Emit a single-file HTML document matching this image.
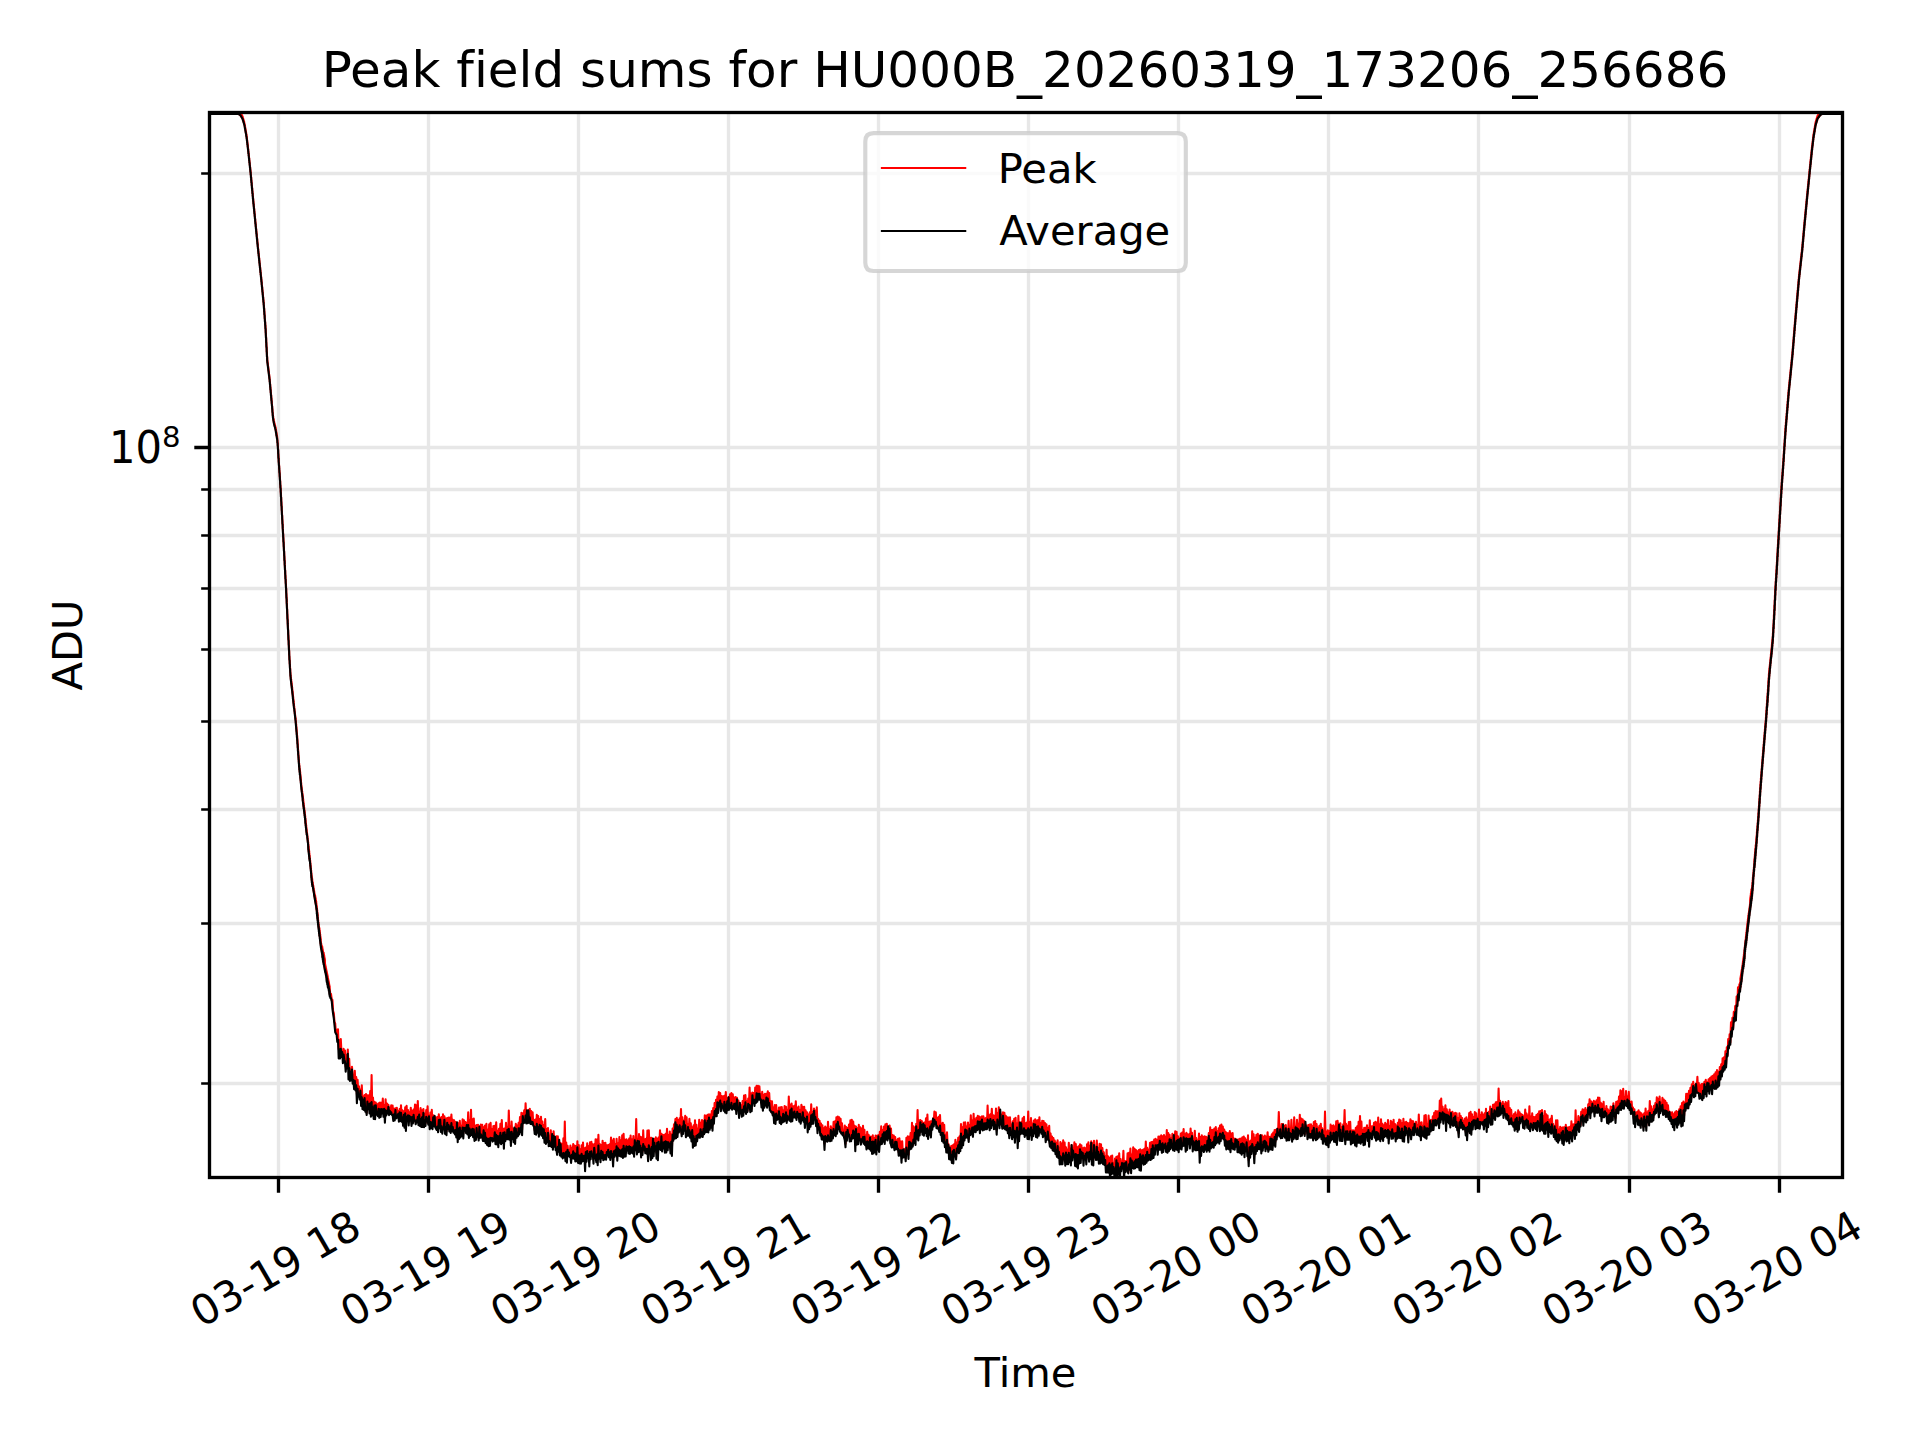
<!DOCTYPE html>
<html><head><meta charset="utf-8"><title>Peak field sums</title>
<style>html,body{margin:0;padding:0;background:#fff;}svg{display:block}text{font-variant-ligatures:none;font-feature-settings:"liga" 0,"clig" 0}</style></head>
<body>
<svg width="1920" height="1440" viewBox="0 0 1920 1440" font-family="'DejaVu Sans', 'Liberation Sans', sans-serif" fill="#000">
<rect width="1920" height="1440" fill="#fff"/>
<defs><clipPath id="c"><rect x="209.5" y="112.5" width="1633.0" height="1065.0"/></clipPath></defs>
<path d="M278.5 112.5V1177.5M428.5 112.5V1177.5M578.5 112.5V1177.5M728.5 112.5V1177.5M878.5 112.5V1177.5M1028.5 112.5V1177.5M1178.5 112.5V1177.5M1328.5 112.5V1177.5M1478.5 112.5V1177.5M1629.5 112.5V1177.5M1779.5 112.5V1177.5M209.5 173.5H1842.5M209.5 489.5H1842.5M209.5 535.5H1842.5M209.5 588.5H1842.5M209.5 649.5H1842.5M209.5 721.5H1842.5M209.5 809.5H1842.5M209.5 923.5H1842.5M209.5 1083.5H1842.5M209.5 447.5H1842.5" stroke="#b0b0b0" stroke-opacity="0.3" stroke-width="3.33" fill="none"/>
<path d="M278.5 1177.5v15.2M428.5 1177.5v15.2M578.5 1177.5v15.2M728.5 1177.5v15.2M878.5 1177.5v15.2M1028.5 1177.5v15.2M1178.5 1177.5v15.2M1328.5 1177.5v15.2M1478.5 1177.5v15.2M1629.5 1177.5v15.2M1779.5 1177.5v15.2M209.5 447.5h-15.2" stroke="#000" stroke-width="3.33" fill="none"/>
<path d="M209.5 173.5h-8.33M209.5 489.5h-8.33M209.5 535.5h-8.33M209.5 588.5h-8.33M209.5 649.5h-8.33M209.5 721.5h-8.33M209.5 809.5h-8.33M209.5 923.5h-8.33M209.5 1083.5h-8.33" stroke="#000" stroke-width="2.5" fill="none"/>
<g clip-path="url(#c)" fill="none" stroke-width="2.08" stroke-linejoin="round">
<path d="M209.4 113.9L209.6 113.9L209.7 113.9L209.8 113.9L209.9 113.9L210.1 113.9L210.2 113.9L210.3 113.9L210.4 113.9L210.6 113.9L210.7 113.9L210.8 113.9L210.9 113.9L211.1 113.9L211.2 113.9L211.3 113.9L211.4 113.9L211.6 113.9L211.7 113.9L211.8 113.9L211.9 113.9L212.1 113.9L212.2 113.9L212.3 113.9L212.4 113.9L212.6 113.9L212.7 113.9L212.8 113.9L212.9 113.9L213.1 113.9L213.2 113.9L213.3 113.9L213.4 113.9L213.6 113.9L213.7 113.9L213.8 113.9L213.9 113.9L214.1 113.9L214.2 113.9L214.3 113.9L214.4 113.9L214.6 113.9L214.7 113.9L214.8 113.9L214.9 113.9L215.1 113.9L215.2 113.9L215.3 113.9L215.4 113.9L215.6 113.9L215.7 113.9L215.8 113.9L215.9 113.9L216.1 113.9L216.2 113.9L216.3 113.9L216.4 113.9L216.6 113.9L216.7 113.9L216.8 113.9L216.9 113.9L217.1 113.9L217.2 113.9L217.3 113.9L217.4 113.9L217.6 113.9L217.7 113.9L217.8 113.9L217.9 113.9L218.1 113.9L218.2 113.9L218.3 113.9L218.4 113.9L218.6 113.9L218.7 113.9L218.8 113.9L218.9 113.9L219.1 113.9L219.2 113.9L219.3 113.9L219.4 113.9L219.6 113.9L219.7 113.9L219.8 113.9L219.9 113.9L220.1 113.9L220.2 113.9L220.3 113.9L220.4 113.9L220.6 113.9L220.7 113.9L220.8 113.9L220.9 113.9L221.1 113.9L221.2 113.9L221.3 113.9L221.4 113.9L221.6 113.9L221.7 113.9L221.8 113.9L221.9 113.9L222.1 113.9L222.2 113.9L222.3 113.9L222.4 113.9L222.6 113.9L222.7 113.9L222.8 113.9L222.9 113.9L223.1 113.9L223.2 113.9L223.3 113.9L223.4 113.9L223.6 113.9L223.7 113.9L223.8 113.9L223.9 113.9L224.1 113.9L224.2 113.9L224.3 113.9L224.4 113.9L224.6 113.9L224.7 113.9L224.8 113.9L224.9 113.9L225.1 113.9L225.2 113.9L225.3 113.9L225.4 113.9L225.6 113.9L225.7 113.9L225.8 113.9L225.9 113.9L226.1 113.9L226.2 113.9L226.3 113.9L226.4 113.9L226.6 113.9L226.7 113.9L226.8 113.9L226.9 113.9L227.1 113.9L227.2 113.9L227.3 113.9L227.4 113.9L227.6 113.9L227.7 113.9L227.8 113.9L227.9 113.9L228.1 113.9L228.2 113.9L228.3 113.9L228.4 113.9L228.6 113.9L228.7 113.9L228.8 113.9L228.9 113.9L229.1 113.9L229.2 113.9L229.3 113.9L229.4 113.9L229.6 113.9L229.7 113.9L229.8 113.9L229.9 113.9L230.1 113.9L230.2 113.9L230.3 113.9L230.4 113.9L230.6 113.9L230.7 113.9L230.8 113.9L230.9 113.9L231.1 113.9L231.2 113.9L231.3 113.9L231.4 113.9L231.6 113.9L231.7 113.9L231.8 113.9L231.9 113.9L232.1 113.9L232.2 113.9L232.3 113.9L232.4 113.9L232.6 113.9L232.7 113.9L232.8 113.9L232.9 113.9L233.1 113.9L233.2 113.9L233.3 113.9L233.4 113.9L233.6 113.9L233.7 113.9L233.8 113.9L233.9 113.9L234.1 113.9L234.2 113.9L234.3 113.9L234.4 113.9L234.6 113.9L234.7 113.9L234.8 113.9L234.9 113.9L235.1 113.9L235.2 113.9L235.3 113.9L235.4 113.9L235.6 113.9L235.7 113.9L235.8 113.9L235.9 113.9L236.1 113.9L236.2 113.9L236.3 113.9L236.4 113.9L236.6 113.9L236.7 113.9L236.8 113.9L236.9 113.9L237.1 113.9L237.2 113.9L237.3 113.9L237.4 113.9L237.6 113.9L237.7 113.9L237.8 113.9L237.9 113.9L238.1 113.9L238.2 113.9L238.3 113.9L238.4 113.9L238.6 114L238.7 113.9L238.8 114.1L238.9 113.9L239.1 114.2L239.2 113.9L239.3 114.4L239.4 113.9L239.6 114.5L239.7 113.9L239.8 114.7L239.9 113.9L240.1 114.9L240.2 113.9L240.3 115L240.4 113.9L240.6 115.4L240.7 113.9L240.8 115.9L240.9 113.9L241.1 116.3L241.2 113.9L241.3 116.7L241.4 114.3L241.6 117.1L241.7 114.8L241.8 117.5L241.9 115.2L242.1 117.9L242.2 115.6L242.3 118.4L242.4 116L242.6 118.7L242.7 116.8L242.8 119.6L242.9 117.6L243.1 120.4L243.2 118.5L243.3 121.2L243.4 119.3L243.6 122L243.7 120.1L243.8 122.8L243.9 121.1L244.1 123.7L244.2 121.9L244.3 124.5L244.4 123L244.6 125.5L244.7 124.4L244.8 127L244.9 125.8L245.1 128.4L245.2 127.1L245.3 129.8L245.4 128.5L245.6 131.2L245.7 129.9L245.8 132.6L245.9 131.4L246.1 134.1L246.2 132.8L246.3 135.5L246.4 134.2L246.6 136.9L246.7 136.1L246.8 138.8L246.9 138.2L247.1 140.9L247.2 140.2L247.3 143L247.4 142.3L247.6 145.1L247.7 144.4L247.8 147.1L247.9 146.5L248.1 149.2L248.2 148.7L248.3 151.4L248.4 151.1L248.6 153.7L248.7 153.4L248.8 156L248.9 155.7L249.1 158.3L249.2 158L249.3 160.7L249.4 160.3L249.6 163L249.7 162.6L249.8 165.3L249.9 164.9L250.1 167.6L250.2 167.2L250.3 169.9L250.4 169.5L250.6 172.2L250.7 172.1L250.8 174.7L250.9 174.8L251.1 177.5L251.2 177.4L251.3 180.2L251.4 180.1L251.6 182.9L251.7 182.8L251.8 185.5L251.9 185.5L252.1 188.2L252.2 188L252.3 190.9L252.4 190.7L252.6 193.6L252.7 193.4L252.8 196.3L252.9 196L253.1 198.9L253.2 198.6L253.3 201.5L253.4 201.1L253.6 204L253.7 203.8L253.8 206.4L253.9 206.3L254.1 208.9L254.2 208.8L254.3 211.4L254.4 211.3L254.6 213.9L254.7 213.8L254.8 216.4L254.9 216.3L255.1 218.9L255.2 218.9L255.3 221.5L255.4 221.4L255.6 224L255.7 223.9L255.8 226.5L255.9 226.4L256.1 229L256.2 228.8L256.3 231.5L256.4 231.3L256.6 234L256.7 233.8L256.8 236.5L256.9 236.3L257.1 239L257.2 238.8L257.3 241.5L257.4 241.3L257.6 244L257.7 243.8L257.8 246.5L257.9 246.3L258.1 248.9L258.2 248.7L258.3 251.3L258.4 251.1L258.6 253.6L258.7 253.4L258.8 256L258.9 255.7L259.1 258.3L259.2 258L259.3 260.8L259.4 260.3L259.6 263.2L259.7 262.7L259.8 265.5L259.9 265L260.1 267.9L260.2 267.4L260.3 270.2L260.4 269.7L260.6 272.6L260.7 272.2L260.8 274.9L260.9 274.5L261.1 277.2L261.2 276.9L261.3 279.6L261.4 279.4L261.6 282.1L261.7 281.9L261.8 284.6L261.9 284.3L262.1 287.1L262.2 286.8L262.3 289.6L262.4 289.4L262.6 292.2L262.7 291.9L262.8 294.7L262.9 294.5L263.1 297.3L263.2 297L263.3 299.8L263.4 299.7L263.6 302.4L263.7 302.3L263.8 304.9L263.9 305.6L264.1 308.3L264.2 309L264.3 311.7L264.4 312.4L264.6 315.1L264.7 315.8L264.8 318.4L264.9 319.1L265.1 321.8L265.2 322.5L265.3 325.2L265.4 325.8L265.6 328.6L265.7 330.1L265.8 332.8L265.9 334.9L266.1 337.6L266.2 339.6L266.3 342.5L266.4 344.4L266.6 347.3L266.7 349.2L266.8 352.1L266.9 353.8L267.1 356.7L267.2 358.3L267.3 361.2L267.4 360.3L267.6 363.2L267.7 362.3L267.8 365.3L267.9 364.3L268.1 367.3L268.2 366.2L268.3 369.3L268.4 368.2L268.6 371.3L268.7 370.2L268.8 373.3L268.9 372.2L269.1 375.3L269.2 374.4L269.3 377.3L269.4 376.3L269.6 379.3L269.7 378.8L269.8 381.7L269.9 381.5L270.1 384.5L270.2 384.2L270.3 387.2L270.4 386.9L270.6 389.9L270.7 389.6L270.8 392.6L270.9 392.4L271.1 395.4L271.2 395.1L271.3 398.1L271.4 397.8L271.6 400.8L271.7 400.5L271.8 403.5L271.9 403.1L272.1 406.2L272.2 406.2L272.3 409.3L272.4 409.3L272.6 412.4L272.7 412.5L272.8 415.6L272.9 414.9L273.1 418L273.2 416.6L273.3 419.6L273.4 418L273.6 421L273.7 419.4L273.8 422.4L273.9 420.9L274.1 423.9L274.2 421.8L274.3 424.8L274.4 422.8L274.6 425.8L274.7 423.7L274.8 426.7L274.9 424.7L275.1 427.6L275.2 425.7L275.3 428.6L275.4 426.6L275.6 429.6L275.7 427.9L275.8 430.9L275.9 429.3L276.1 432.4L276.2 430.8L276.3 433.9L276.4 432.3L276.6 435.5L276.7 433.8L276.8 437L276.9 435.3L277.1 438.5L277.2 436.9L277.3 440L277.4 439.9L277.6 442.9L277.7 442.8L277.8 445.8L277.9 446.3L278.1 449.3L278.2 450.8L278.3 453.8L278.4 455.2L278.6 458.2L278.7 459.2L278.8 462.2L278.9 462.7L279.1 465.7L279.2 466.3L279.3 469.4L279.4 470L279.6 473L279.7 473.7L279.8 476.7L279.9 477.3L280.1 480.4L280.2 481.1L280.3 484.4L280.4 484.8L280.6 488.1L280.7 489L280.8 492.3L280.9 493.5L281.1 496.9L281.2 498.1L281.3 501.4L281.4 502.6L281.6 506L281.7 507.1L281.8 510.5L281.9 511.7L282.1 515.1L282.2 516.2L282.3 519.6L282.4 520.8L282.6 524.2L282.7 525.3L282.8 528.8L282.9 529.9L283.1 533.3L283.2 534.6L283.3 537.5L283.4 539.1L283.6 542L283.7 543.7L283.8 546.6L283.9 548.2L284.1 551.2L284.2 552.8L284.3 555.7L284.4 557.2L284.6 560.7L284.7 561.8L284.8 565.2L284.9 566.4L285.1 569.8L285.2 570.9L285.3 574.4L285.4 575.5L285.6 578.9L285.7 580L285.8 583.5L285.9 584L286.1 587.9L286.2 589.1L286.3 593.1L286.4 594.3L286.6 598.3L286.7 599.5L286.8 603.5L286.9 604.6L287.1 608.7L287.2 610.8L287.3 614L287.4 616L287.6 619.2L287.7 621.2L287.8 624.4L287.9 626.4L288.1 629.6L288.2 631.6L288.3 634.8L288.4 636.8L288.6 640L288.7 641.3L288.8 645L288.9 646.5L289.1 650.2L289.2 651.7L289.3 655.4L289.4 656.4L289.6 660.1L289.7 660.2L289.8 664L289.9 664.4L290.1 668.6L290.2 668.3L290.3 672.5L290.4 672.2L290.6 676.4L290.7 675L290.8 679.3L290.9 677.2L291.1 681.4L291.2 679.3L291.3 683.6L291.4 681L291.6 685.4L291.7 683.1L291.8 687.6L291.9 685.2L292.1 689.7L292.2 687.4L292.3 691.9L292.4 689.5L292.6 694.1L292.7 691.7L292.8 696.2L292.9 694.6L293.1 699.2L293.2 696.8L293.3 701.3L293.4 698.9L293.6 703.5L293.7 701.1L293.8 705.8L293.9 703.4L294.1 708L294.2 706.2L294.3 709.2L294.4 708.4L294.6 711.4L294.7 710.7L294.8 713.6L294.9 712.9L295.1 715.9L295.2 715.1L295.3 718.1L295.4 717.3L295.6 720.3L295.7 718.5L295.8 723L295.9 721.3L296.1 725.9L296.2 724.1L296.3 728.7L296.4 726.9L296.6 731.5L296.7 729.7L296.8 734.4L296.9 733L297.1 737.7L297.2 735.8L297.3 740.5L297.4 739.4L297.6 744.1L297.7 742.9L297.8 747.7L297.9 746.4L298.1 751.3L298.2 750L298.3 754.8L298.4 753.8L298.6 757.9L298.7 757.4L298.8 761.5L298.9 760.9L299.1 765.1L299.2 763.4L299.3 767.6L299.4 765.9L299.6 770.1L299.7 768.4L299.8 772.6L299.9 769.5L300.1 774.5L300.2 771.9L300.3 777L300.4 774.4L300.6 779.5L300.7 776.9L300.8 782L300.9 779.3L301.1 784.5L301.2 782.9L301.3 787L301.4 785.4L301.6 789.5L301.7 787.3L301.8 791.4L301.9 789.2L302.1 793.4L302.2 791.2L302.3 795.3L302.4 793.1L302.6 797.3L302.7 794.9L302.8 800.5L302.9 796.9L303.1 802.4L303.2 798.9L303.3 804.4L303.4 801L303.6 806.5L303.7 803L303.8 808.6L303.9 805.4L304.1 809.8L304.2 807.5L304.3 811.8L304.4 809.5L304.6 813.9L304.7 811.6L304.8 816L304.9 813.7L305.1 818.1L305.2 815.8L305.3 820.2L305.4 818.4L305.6 823.5L305.7 820.6L305.8 825.7L305.9 822.8L306.1 828L306.2 825L306.3 830.2L306.4 827.3L306.6 832.4L306.7 829.5L306.8 834.7L306.9 831.7L307.1 834.8L307.2 833.9L307.3 837L307.4 836.1L307.6 839.3L307.7 838.4L307.8 841.5L307.9 840.6L308.1 843.7L308.2 842.1L308.3 848.1L308.4 844.3L308.6 850.4L308.7 846.5L308.8 852.6L308.9 848.7L309.1 854.8L309.2 850.9L309.3 857.1L309.4 853.2L309.6 859.4L309.7 855.5L309.8 859.8L309.9 858L310.1 862.2L310.2 860.4L310.3 864.7L310.4 862.9L310.6 867.2L310.7 865.4L310.8 869.7L310.9 867.8L311.1 872.2L311.2 870.4L311.3 875.7L311.4 872.9L311.6 878.2L311.7 875.4L311.8 880.7L311.9 877.4L312.1 882.7L312.2 878.8L312.3 884.2L312.4 880.9L312.6 884.9L312.7 882.3L312.8 886.4L312.9 883.7L313.1 887.8L313.2 885.2L313.3 889.2L313.4 886.6L313.6 890.6L313.7 888L313.8 892.1L313.9 889.7L314.1 894.1L314.2 891.1L314.3 895.5L314.4 892.6L314.6 896.9L314.7 894L314.8 898.4L314.9 895.4L315.1 899.8L315.2 895.7L315.3 901.4L315.4 897.1L315.6 902.9L315.7 898.6L315.8 904.3L315.9 900L316.1 905.8L316.2 901.4L316.3 907.2L316.4 903.6L316.6 909.4L316.7 905.6L316.8 911.2L316.9 907.7L317.1 913.4L317.2 909.9L317.3 915.6L317.4 912.1L317.6 917.8L317.7 914.2L317.8 920L317.9 918L318.1 922.6L318.2 920.1L318.3 924.8L318.4 922.3L318.6 926.9L318.7 924.4L318.8 929L318.9 926.5L319.1 931.2L319.2 928.6L319.3 933.3L319.4 928L319.6 934.9L319.7 930.1L319.8 937L319.9 932.1L320.1 939.1L320.2 934.2L320.3 941.2L320.4 936.3L320.6 943.4L320.7 938L320.8 945.1L320.9 941.8L321.1 947.3L321.2 943.2L321.3 948.7L321.4 944.6L321.6 950.1L321.7 946L321.8 951.6L321.9 947.4L322.1 953L322.2 946.4L322.3 954.2L322.4 947.8L322.6 955.6L322.7 949.2L322.8 957.1L322.9 950.6L323.1 958.5L323.2 952L323.3 959.9L323.4 953.4L323.6 961.3L323.7 952.7L323.8 963.7L323.9 954.1L324.1 965.1L324.2 955.5L324.3 966.5L324.4 956.9L324.6 967.9L324.7 958.2L324.8 969.4L324.9 959.6L325.1 970.8L325.2 964.1L325.3 971.1L325.4 965.3L325.6 972.3L325.7 966.5L325.8 973.5L325.9 967.7L326.1 974.7L326.2 968.9L326.3 975.9L326.4 970.2L326.6 978.3L326.7 971.4L326.8 979.5L326.9 972.5L327.1 980.7L327.2 973.7L327.3 981.9L327.4 974.9L327.6 983.1L327.7 976.1L327.8 984.3L327.9 977.7L328.1 985L328.2 978.9L328.3 986.3L328.4 980L328.6 987.5L328.7 981.2L328.8 988.7L328.9 982.4L329.1 989.9L329.2 984L329.3 991.6L329.4 985.2L329.6 992.8L329.7 986.4L329.8 994L329.6 987.6L330.4 995.2L331 994L331.8 1000L332.4 999.9L333.1 1011.1L333.8 1013.1L334.5 1021.8L335.2 1023.4L335.9 1032.9L336.6 1029.7L337.3 1038.2L338 1029.2L338.7 1049.1L339.4 1040.3L340.1 1053.9L340.8 1039L341.5 1053L342.2 1051.7L342.9 1057.6L343.6 1048.8L344.3 1056.8L345 1050.5L345.7 1066.7L346.4 1055.1L347.1 1066.1L347.8 1049.6L348.5 1066.6L349.2 1058.9L349.9 1074.5L350.6 1070.5L351.3 1076L352 1066.7L352.7 1076.7L353.4 1076.2L354.1 1084.6L354.8 1070.9L355.5 1085.6L356.2 1077L356.9 1094.2L357.6 1079.9L358.3 1092.6L359 1086.4L359.7 1097.3L360.4 1089.9L361.1 1098.4L361.8 1085.3L362.5 1103.2L363.2 1096.5L363.9 1105L364.6 1095L365.3 1104.9L366 1094.1L366.7 1112.8L367.4 1095.4L368.1 1105.4L368.8 1095.4L369.5 1108.9L370.2 1091L370.9 1110L371.6 1075L372.3 1108.7L373 1097.5L373.7 1113.3L374.4 1101.9L375.1 1112.4L375.8 1102.6L376.5 1110L377.2 1104.3L377.9 1113.9L378.6 1103.4L379.3 1113.3L380 1102.5L380.7 1113.1L381.4 1102.7L382.1 1111.3L382.8 1098.6L383.5 1113L384.2 1105L384.9 1115.7L385.6 1099.2L386.3 1112.8L387 1103.6L387.7 1112.3L388.4 1104.8L389.1 1111L389.8 1108.1L390.5 1112.3L391.2 1105.4L391.9 1113.5L392.6 1105.5L393.3 1118L394 1108.9L394.7 1117.4L395.4 1108.2L396.1 1114.3L396.8 1107.7L397.5 1116.6L398.2 1111.1L398.9 1117.8L399.6 1109.1L400.3 1116.7L401 1105.2L401.7 1117.2L402.4 1110.3L403.1 1121.6L403.8 1111.3L404.5 1121.2L405.2 1107.2L405.9 1122.1L406.6 1105.9L407.3 1118.8L408 1110L408.7 1120.3L409.4 1112.2L410.1 1117.1L410.8 1107.7L411.5 1121.5L412.2 1110.8L412.9 1120.3L413.6 1109.5L414.3 1117.7L415 1104.5L415.7 1122.2L416.4 1105.4L417.1 1121.5L417.8 1101L418.5 1121L419.2 1111.7L419.9 1120.3L420.6 1108.1L421.3 1123.2L422 1110.4L422.7 1122.1L423.4 1109.1L424.1 1120L424.8 1114.3L425.5 1123.2L426.2 1110L426.9 1117.5L427.6 1106.3L428.3 1122.5L429 1115.5L429.7 1122.8L430.4 1112.5L431.1 1125L431.8 1109.7L432.5 1125.7L433.2 1115.2L433.9 1121.8L434.6 1116.7L435.3 1121.7L436 1117.6L436.7 1129.3L437.4 1117.1L438.1 1129.4L438.8 1114.3L439.5 1124.1L440.2 1117.9L440.9 1125.7L441.6 1117.1L442.3 1130.1L443 1114.3L443.7 1128.2L444.4 1116.3L445.1 1126.8L445.8 1118.6L446.5 1131.1L447.2 1118L447.9 1125.8L448.6 1117.5L449.3 1128.3L450 1117.6L450.7 1129.9L451.4 1114.6L452.1 1127.1L452.8 1119.8L453.5 1129.9L454.2 1120.4L454.9 1132.3L455.6 1122.1L456.3 1133.7L457 1122.7L457.7 1132.3L458.4 1123.4L459.1 1133.9L459.8 1120.8L460.5 1132.6L461.2 1125.8L461.9 1133.7L462.6 1119.2L463.3 1133.1L464 1120.2L464.7 1128.9L465.4 1122L466.1 1130.5L466.8 1122.7L467.5 1129.8L468.2 1112.3L468.9 1131.5L469.6 1120.6L470.3 1132.3L471 1109.8L471.7 1132.6L472.4 1119.3L473.1 1132.9L473.8 1118.6L474.5 1135L475.2 1125.9L475.9 1137.3L476.6 1125.1L477.3 1132.4L478 1124.9L478.7 1137.9L479.4 1126.2L480.1 1132.3L480.8 1124.6L481.5 1135.8L482.2 1124.8L482.9 1138.4L483.6 1127.2L484.3 1135.8L485 1125.6L485.7 1138L486.4 1123.9L487.1 1141.3L487.8 1129.8L488.5 1142.6L489.2 1124.2L489.9 1142.3L490.6 1122.7L491.3 1139L492 1129.3L492.7 1139.8L493.4 1126L494.1 1139.8L494.8 1125.8L495.5 1138.3L496.2 1122.2L496.9 1139.7L497.6 1130.9L498.3 1141.6L499 1128.7L499.7 1139.5L500.4 1123.8L501.1 1138.5L501.8 1120L502.5 1139.4L503.2 1128.9L503.9 1140.7L504.6 1128.6L505.3 1136.6L506 1122.8L506.7 1137.2L507.4 1127.1L508.1 1134.6L508.8 1110.6L509.5 1134.3L510.2 1126.8L510.9 1139.2L511.6 1121.6L512.3 1135.3L513 1128.7L513.7 1138L514.4 1128.5L515.1 1135.8L515.8 1123.8L516.5 1133.3L517.2 1125.5L517.9 1134.5L518.6 1122.9L519.3 1131.4L520 1117L520.7 1130.2L521.4 1112.7L522.1 1129.7L522.8 1113.2L523.5 1119.7L524.2 1110.3L524.9 1121.3L525.6 1103.4L526.3 1119.5L527 1111.5L527.7 1116.7L528.4 1110L529.1 1116.6L529.8 1108.7L530.5 1120.7L531.2 1111.1L531.9 1122.9L532.6 1112.4L533.3 1123.9L534 1120.1L534.7 1130.2L535.4 1119.6L536.1 1130.9L536.8 1114.7L537.5 1128.3L538.2 1116.1L538.9 1131.9L539.6 1119.1L540.3 1129.6L541 1116.7L541.7 1130.7L542.4 1121.6L543.1 1133.2L543.8 1125L544.5 1136.1L545.2 1119.1L545.9 1138.5L546.6 1129.1L547.3 1140.2L548 1128.1L548.7 1139.5L549.4 1136.7L550.1 1143.4L550.8 1130.4L551.5 1145.5L552.2 1137.2L552.9 1141.8L553.6 1131.4L554.3 1141.4L555 1139.9L555.7 1143.6L556.4 1136.3L557.1 1152.1L557.8 1136.2L558.5 1149.2L559.2 1141.8L559.9 1147.6L560.6 1143.1L561.3 1150.5L562 1144L562.7 1156L563.4 1138.3L564.1 1155.2L564.8 1121.5L565.5 1157.3L566.2 1142.5L566.9 1157.3L567.6 1145.8L568.3 1153L569 1149.9L569.7 1154.6L570.4 1145.5L571.1 1159.3L571.8 1147.8L572.5 1156.6L573.2 1144.1L573.9 1155L574.6 1145.6L575.3 1157.4L576 1146.1L576.7 1157.5L577.4 1141.2L578.1 1155.2L578.8 1145.1L579.5 1159.4L580.2 1149.4L580.9 1159.6L581.6 1145.3L582.3 1157.6L583 1142.6L583.7 1158.3L584.4 1148.3L585.1 1163.4L585.8 1147.6L586.5 1156.9L587.2 1143.3L587.9 1154.3L588.6 1146.3L589.3 1160.3L590 1142.2L590.7 1155.4L591.4 1141.7L592.1 1153.5L592.8 1144.3L593.5 1159L594.2 1144.4L594.9 1151.4L595.6 1139.3L596.3 1159.5L597 1139.6L597.7 1159.6L598.4 1134.7L599.1 1152.2L599.8 1144L600.5 1158.1L601.2 1145.1L601.9 1154.5L602.6 1140.9L603.3 1156.1L604 1143L604.7 1157.3L605.4 1142.8L606.1 1157.4L606.8 1145.2L607.5 1153.8L608.2 1145.1L608.9 1153.6L609.6 1144.3L610.3 1156.2L611 1137.6L611.7 1154.2L612.4 1140.5L613.1 1160.2L613.8 1138.8L614.5 1154.1L615.2 1144.4L615.9 1152.9L616.6 1138.8L617.3 1153.5L618 1143.5L618.7 1152L619.4 1137.1L620.1 1153L620.8 1140.4L621.5 1153.7L622.2 1135.4L622.9 1153.7L623.6 1133.8L624.3 1151.2L625 1139.7L625.7 1152.6L626.4 1139.2L627.1 1148.4L627.8 1140.5L628.5 1150.2L629.2 1138.5L629.9 1150.1L630.6 1135.5L631.3 1149.8L632 1139.6L632.7 1150.8L633.4 1136L634.1 1151.6L634.8 1139.6L635.5 1145.2L636.2 1119L636.9 1148.6L637.6 1139.7L638.3 1146.4L639 1134.1L639.7 1146.5L640.4 1136.9L641.1 1151.6L641.8 1137.4L642.5 1151.7L643.2 1130.4L643.9 1146.8L644.6 1139.3L645.3 1150L646 1138.7L646.7 1151.2L647.4 1130.6L648.1 1155.1L648.8 1130.3L649.5 1147.9L650.2 1137.9L650.9 1154.6L651.6 1137.8L652.3 1152.6L653 1145.6L653.7 1147.4L654.4 1139L655.1 1145.8L655.8 1137.4L656.5 1152.6L657.2 1138.9L657.9 1151.5L658.6 1137.5L659.3 1145.6L660 1130.4L660.7 1147.3L661.4 1133.8L662.1 1143.9L662.8 1134.9L663.5 1145.6L664.2 1135.1L664.9 1147.3L665.6 1133.7L666.3 1146.9L667 1128.7L667.7 1146.2L668.4 1135.1L669.1 1144.1L669.8 1131.5L670.5 1148.7L671.2 1134.5L671.9 1148.9L672.6 1128.5L673.3 1137.7L674 1124.4L674.7 1134.5L675.4 1119.1L676.1 1130.3L676.8 1117.9L677.5 1130.9L678.2 1120L678.9 1129.8L679.6 1118.3L680.3 1127.7L681 1109L681.7 1133.4L682.4 1117.3L683.1 1130.3L683.8 1120.7L684.5 1126.1L685.2 1115.9L685.9 1131.3L686.6 1117.2L687.3 1133.4L688 1124.3L688.7 1131.3L689.4 1118.8L690.1 1133.9L690.8 1123.3L691.5 1137L692.2 1127.3L692.9 1138.9L693.6 1125.4L694.3 1141.1L695 1120.3L695.7 1142.2L696.4 1124.8L697.1 1138.5L697.8 1128.7L698.5 1136.2L699.2 1119.9L699.9 1135.7L700.6 1122.9L701.3 1132.9L702 1120.1L702.7 1134.7L703.4 1121.3L704.1 1131.5L704.8 1115.3L705.5 1126.4L706.2 1115.9L706.9 1127.7L707.6 1114.7L708.3 1126.6L709 1114.4L709.7 1123.7L710.4 1114.6L711.1 1124.2L711.8 1111.1L712.5 1125.2L713.2 1108L713.9 1120.4L714.6 1103L715.3 1113.6L716 1099.9L716.7 1112.7L717.4 1096.5L718.1 1107.6L718.8 1092.1L719.5 1104.4L720.2 1093L720.9 1105.9L721.6 1096.1L722.3 1105.4L723 1096.3L723.7 1108.9L724.4 1095.8L725.1 1107.2L725.8 1092L726.5 1109L727.2 1098.3L727.9 1105.9L728.6 1097.1L729.3 1103.6L730 1094.3L730.7 1106.6L731.4 1093.1L732.1 1106.3L732.8 1094.3L733.5 1107.4L734.2 1097.5L734.9 1106.6L735.6 1097L736.3 1108.8L737 1097.8L737.7 1104.2L738.4 1100.5L739.1 1113.5L739.8 1103.4L740.5 1106.2L741.2 1105.4L741.9 1114.7L742.6 1101L743.3 1112.7L744 1095.5L744.7 1109.1L745.4 1095.1L746.1 1108.2L746.8 1101L747.5 1110.6L748.2 1098.5L748.9 1105.5L749.6 1087.6L750.3 1108.6L751 1093.5L751.7 1108.7L752.4 1092.5L753.1 1099.1L753.8 1093L754.5 1102.9L755.2 1087.6L755.9 1101.2L756.6 1085.9L757.3 1097.5L758 1085.8L758.7 1096.7L759.4 1086.2L760.1 1096.7L760.8 1094.3L761.5 1103.4L762.2 1091.8L762.9 1105.7L763.6 1094.7L764.3 1103.9L765 1093.9L765.7 1103.6L766.4 1093.8L767.1 1102.6L767.8 1091.3L768.5 1101.8L769.2 1093L769.9 1106.8L770.6 1101L771.3 1111.6L772 1101.4L772.7 1113.7L773.4 1107.6L774.1 1117.8L774.8 1105.1L775.5 1119.2L776.2 1105.1L776.9 1116.8L777.6 1111L778.3 1117.6L779 1107.6L779.7 1117L780.4 1107.2L781.1 1120.4L781.8 1107L782.5 1120.5L783.2 1110.6L783.9 1117.7L784.6 1106L785.3 1118L786 1106.8L786.7 1117.6L787.4 1110.1L788.1 1117.5L788.8 1096.5L789.5 1119.3L790.2 1104.9L790.9 1116L791.6 1103.5L792.3 1114.9L793 1106.5L793.7 1115.2L794.4 1105.7L795.1 1114.6L795.8 1101.4L796.5 1117.1L797.2 1107.9L797.9 1114.6L798.6 1106.6L799.3 1117.7L800 1110L800.7 1118.7L801.4 1104.9L802.1 1118.8L802.8 1106.7L803.5 1117L804.2 1106.8L804.9 1122.9L805.6 1110.3L806.3 1120.4L807 1112.3L807.7 1124.5L808.4 1114.5L809.1 1126.6L809.8 1112.3L810.5 1124.7L811.2 1104.3L811.9 1119.6L812.6 1112.2L813.3 1119.1L814 1108.5L814.7 1115.2L815.4 1110.9L816.1 1121.6L816.8 1107.4L817.5 1126.7L818.2 1119.1L818.9 1126.4L819.6 1120.8L820.3 1131.4L821 1123.6L821.7 1136.6L822.4 1125.3L823.1 1137.7L823.8 1128.2L824.5 1143.5L825.2 1126.6L825.9 1138.4L826.6 1127.8L827.3 1139.6L828 1121.7L828.7 1138L829.4 1129.4L830.1 1139.6L830.8 1126.2L831.5 1135.4L832.2 1128.3L832.9 1135.1L833.6 1121.7L834.3 1132.1L835 1121.2L835.7 1133.8L836.4 1117.3L837.1 1129.1L837.8 1116.6L838.5 1125.5L839.2 1117.3L839.9 1129L840.6 1118.9L841.3 1132.6L842 1123.2L842.7 1134.1L843.4 1130.8L844.1 1135.2L844.8 1125.5L845.5 1143.8L846.2 1127L846.9 1136.4L847.6 1128.1L848.3 1132.1L849 1124.5L849.7 1137.9L850.4 1120.4L851.1 1139.9L851.8 1119.7L852.5 1136.8L853.2 1121.5L853.9 1134.3L854.6 1125.7L855.3 1141.6L856 1126.5L856.7 1136.9L857.4 1128.3L858.1 1139.4L858.8 1124.8L859.5 1136.5L860.2 1127.3L860.9 1141.8L861.6 1128.6L862.3 1140.5L863 1125.7L863.7 1140.5L864.4 1129.7L865.1 1140.9L865.8 1135.4L866.5 1145.8L867.2 1131.9L867.9 1144.8L868.6 1134.9L869.3 1145.6L870 1136.6L870.7 1144.2L871.4 1136.9L872.1 1148L872.8 1135.4L873.5 1147.5L874.2 1138L874.9 1147L875.6 1135.5L876.3 1147.1L877 1135.9L877.7 1148L878.4 1135L879.1 1144.2L879.8 1131.9L880.5 1143.7L881.2 1126.3L881.9 1141L882.6 1130.2L883.3 1137.9L884 1126.5L884.7 1138.1L885.4 1124.4L886.1 1135.9L886.8 1123.8L887.5 1135.8L888.2 1128.1L888.9 1132.3L889.6 1125.5L890.3 1135.9L891 1128.6L891.7 1146L892.4 1135L893.1 1143.6L893.8 1135.5L894.5 1147.6L895.2 1137.1L895.9 1145.5L896.6 1140.6L897.3 1145.7L898 1138.9L898.7 1152.1L899.4 1138.2L900.1 1152.8L900.8 1141.6L901.5 1156.5L902.2 1141.4L902.9 1154.1L903.6 1150.2L904.3 1153.1L905 1148.9L905.7 1158.1L906.4 1137.9L907.1 1149.9L907.8 1136.4L908.5 1154.8L909.2 1136.7L909.9 1145.6L910.6 1133.1L911.3 1145.7L912 1122.9L912.7 1145.3L913.4 1126.4L914.1 1141.3L914.8 1127.5L915.5 1138.9L916.2 1123.7L916.9 1132.4L917.6 1110L918.3 1135.5L919 1120.2L919.7 1132.6L920.4 1120L921.1 1126.9L921.8 1121.1L922.5 1129.9L923.2 1122.8L923.9 1129.7L924.6 1122.6L925.3 1129.1L926 1118.2L926.7 1132.5L927.4 1114.5L928.1 1133.7L928.8 1122L929.5 1132.6L930.2 1121.4L930.9 1132L931.6 1121.3L932.3 1127L933 1118.5L933.7 1122.5L934.4 1111.5L935.1 1122L935.8 1112.4L936.5 1124.9L937.2 1118.1L937.9 1127.5L938.6 1116.8L939.3 1130.1L940 1115L940.7 1130.2L941.4 1123.5L942.1 1137L942.8 1122.8L943.5 1137.8L944.2 1124.9L944.9 1141.2L945.6 1134.8L946.3 1147.5L947 1132.4L947.7 1146.2L948.4 1143.9L949.1 1152.2L949.8 1147.7L950.5 1153.8L951.2 1146.1L951.9 1159L952.6 1145.4L953.3 1157.3L954 1144.4L954.7 1152.6L955.4 1139.7L956.1 1157L956.8 1142.5L957.5 1150.5L958.2 1137.8L958.9 1149.3L959.6 1136.3L960.3 1146.4L961 1124L961.7 1140.7L962.4 1127.3L963.1 1141.3L963.8 1122.5L964.5 1138.2L965.2 1122.3L965.9 1133.6L966.6 1126.9L967.3 1133.8L968 1122.6L968.7 1139L969.4 1125.1L970.1 1131.9L970.8 1115.2L971.5 1133L972.2 1120.6L972.9 1132.2L973.6 1113.9L974.3 1129.6L975 1119.5L975.7 1129.1L976.4 1117.8L977.1 1127.9L977.8 1115.8L978.5 1125.4L979.2 1116.5L979.9 1127.6L980.6 1117.2L981.3 1125.3L982 1116.3L982.7 1125L983.4 1116.2L984.1 1126.7L984.8 1118.5L985.5 1126.1L986.2 1117.7L986.9 1126.1L987.6 1105.6L988.3 1123.5L989 1115.2L989.7 1125.5L990.4 1114.4L991.1 1123.7L991.8 1108.9L992.5 1123.4L993.2 1115.4L993.9 1124.6L994.6 1115.7L995.3 1125.4L996 1108.6L996.7 1130L997.4 1113.4L998.1 1121.8L998.8 1107.3L999.5 1125.3L1000.2 1111.5L1000.9 1116.8L1001.6 1114.7L1002.3 1125.4L1003 1112.4L1003.7 1122.1L1004.4 1112.9L1005.1 1128.5L1005.8 1115.7L1006.5 1128.2L1007.2 1117.4L1007.9 1129.4L1008.6 1117.5L1009.3 1133.4L1010 1117.2L1010.7 1131.4L1011.4 1124.7L1012.1 1135.3L1012.8 1121.2L1013.5 1130.2L1014.2 1118.8L1014.9 1136.7L1015.6 1117.7L1016.3 1133.1L1017 1123.9L1017.7 1137.9L1018.4 1115.7L1019.1 1136.4L1019.8 1122.9L1020.5 1128.4L1021.2 1122.2L1021.9 1128.4L1022.6 1118.2L1023.3 1132.5L1024 1116.9L1024.7 1132.6L1025.4 1123.2L1026.1 1132.8L1026.8 1122.5L1027.5 1134.5L1028.2 1111.5L1028.9 1133.8L1029.6 1122.3L1030.3 1132.6L1031 1118L1031.7 1133.6L1032.4 1123.9L1033.1 1133.2L1033.8 1120.5L1034.5 1128.8L1035.2 1119.3L1035.9 1130.7L1036.6 1120.6L1037.3 1132.4L1038 1120.1L1038.7 1131L1039.4 1117.3L1040.1 1130.5L1040.8 1123.2L1041.5 1131.6L1042.2 1120.8L1042.9 1131.9L1043.6 1121L1044.3 1133.1L1045 1123L1045.7 1137.4L1046.4 1124.4L1047.1 1138.3L1047.8 1127.8L1048.5 1135.3L1049.2 1125.8L1049.9 1143.9L1050.6 1133.5L1051.3 1145.3L1052 1136.6L1052.7 1146L1053.4 1138L1054.1 1147.4L1054.8 1140.5L1055.5 1149L1056.2 1142.7L1056.9 1153.4L1057.6 1140.3L1058.3 1152L1059 1147.8L1059.7 1158.2L1060.4 1142.1L1061.1 1160.3L1061.8 1143.5L1062.5 1160.8L1063.2 1140.3L1063.9 1155L1064.6 1142.5L1065.3 1160.8L1066 1147.3L1066.7 1158.2L1067.4 1149.8L1068.1 1159.7L1068.8 1142.8L1069.5 1157.6L1070.2 1148.9L1070.9 1161.2L1071.6 1145L1072.3 1152.7L1073 1149.3L1073.7 1153.1L1074.4 1142.4L1075.1 1160.2L1075.8 1144.1L1076.5 1160.4L1077.2 1147.2L1077.9 1161.7L1078.6 1146.2L1079.3 1159.2L1080 1144.4L1080.7 1156.2L1081.4 1145.4L1082.1 1154.9L1082.8 1148.4L1083.5 1159.4L1084.2 1147.5L1084.9 1157.1L1085.6 1148.2L1086.3 1159.2L1087 1144.4L1087.7 1153.6L1088.4 1142.2L1089.1 1157.1L1089.8 1145.8L1090.5 1155.5L1091.2 1141.2L1091.9 1153.8L1092.6 1143.2L1093.3 1159.6L1094 1140.9L1094.7 1151.3L1095.4 1147.2L1096.1 1157.1L1096.8 1140.5L1097.5 1153.2L1098.2 1148L1098.9 1157.7L1099.6 1143.8L1100.3 1159L1101 1144.2L1101.7 1156.5L1102.4 1148L1103.1 1158.8L1103.8 1152.4L1104.5 1160.6L1105.2 1156.4L1105.9 1166.3L1106.6 1149.9L1107.3 1169.4L1108 1156.4L1108.7 1168.9L1109.4 1157.7L1110.1 1171.8L1110.8 1156.4L1111.5 1169.8L1112.2 1155.5L1112.9 1168.4L1113.6 1163.4L1114.3 1171.2L1115 1158.5L1115.7 1171.9L1116.4 1156.7L1117.1 1168.3L1117.8 1156.3L1118.5 1169L1119.2 1153.4L1119.9 1173.8L1120.6 1159L1121.3 1169L1122 1161.3L1122.7 1165.8L1123.4 1150.8L1124.1 1171.5L1124.8 1161.1L1125.5 1167.6L1126.2 1161.1L1126.9 1165.8L1127.6 1153.3L1128.3 1172.3L1129 1152.9L1129.7 1166.9L1130.4 1148.5L1131.1 1165.8L1131.8 1154.9L1132.5 1164.3L1133.2 1147.2L1133.9 1165.8L1134.6 1148.7L1135.3 1164.7L1136 1150L1136.7 1163.2L1137.4 1151.3L1138.1 1163.5L1138.8 1150L1139.5 1164.5L1140.2 1149.3L1140.9 1162.6L1141.6 1150.3L1142.3 1159.9L1143 1149.9L1143.7 1159.9L1144.4 1148.8L1145.1 1160.9L1145.8 1141.6L1146.5 1158.8L1147.2 1147.8L1147.9 1156.3L1148.6 1149.8L1149.3 1157.4L1150 1142.8L1150.7 1157.4L1151.4 1142.1L1152.1 1153.9L1152.8 1141.8L1153.5 1151.5L1154.2 1139.6L1154.9 1151.6L1155.6 1138.7L1156.3 1146.4L1157 1140.1L1157.7 1150L1158.4 1136.6L1159.1 1147.3L1159.8 1136.6L1160.5 1145.1L1161.2 1135.2L1161.9 1148.6L1162.6 1136.2L1163.3 1147.7L1164 1135L1164.7 1146.6L1165.4 1136.9L1166.1 1147.7L1166.8 1130.1L1167.5 1149.7L1168.2 1133.1L1168.9 1147.1L1169.6 1134.9L1170.3 1144.3L1171 1138.4L1171.7 1143.8L1172.4 1133.7L1173.1 1147.6L1173.8 1138.7L1174.5 1142.9L1175.2 1131.3L1175.9 1146L1176.6 1131.9L1177.3 1145.5L1178 1136.4L1178.7 1146L1179.4 1138.6L1180.1 1144L1180.8 1133.5L1181.5 1143.8L1182.2 1132.5L1182.9 1145.1L1183.6 1129L1184.3 1141.4L1185 1134.3L1185.7 1145.1L1186.4 1132.7L1187.1 1144.1L1187.8 1134.3L1188.5 1141.4L1189.2 1134.4L1189.9 1143.6L1190.6 1128.6L1191.3 1141.5L1192 1132.9L1192.7 1143.7L1193.4 1139.5L1194.1 1145.3L1194.8 1130.9L1195.5 1146.4L1196.2 1138L1196.9 1145.5L1197.6 1140.8L1198.3 1146L1199 1133.6L1199.7 1151.9L1200.4 1137L1201.1 1152L1201.8 1135.2L1202.5 1148.5L1203.2 1136.7L1203.9 1149.4L1204.6 1136.2L1205.3 1147.4L1206 1136.7L1206.7 1148.4L1207.4 1137.9L1208.1 1145.4L1208.8 1133.1L1209.5 1143.7L1210.2 1127.3L1210.9 1144L1211.6 1130L1212.3 1145.1L1213 1129.7L1213.7 1144.9L1214.4 1128.6L1215.1 1141.1L1215.8 1127.1L1216.5 1137.9L1217.2 1131.4L1217.9 1140.3L1218.6 1128.4L1219.3 1140.2L1220 1125.5L1220.7 1137.3L1221.4 1124.5L1222.1 1136.2L1222.8 1126.6L1223.5 1136L1224.2 1129.5L1224.9 1140.6L1225.6 1131.8L1226.3 1144.8L1227 1133L1227.7 1145.1L1228.4 1133.4L1229.1 1145.4L1229.8 1131L1230.5 1146.6L1231.2 1133.5L1231.9 1143.6L1232.6 1133.1L1233.3 1146.3L1234 1138.6L1234.7 1147L1235.4 1138.7L1236.1 1143.1L1236.8 1139.5L1237.5 1146.2L1238.2 1139.5L1238.9 1147L1239.6 1138.8L1240.3 1150.3L1241 1138.6L1241.7 1149.4L1242.4 1137.3L1243.1 1148.2L1243.8 1136.5L1244.5 1150.6L1245.2 1138.2L1245.9 1149.3L1246.6 1140.4L1247.3 1149.4L1248 1135.4L1248.7 1160L1249.4 1141.5L1250.1 1152.5L1250.8 1140.6L1251.5 1150.2L1252.2 1131.2L1252.9 1145.6L1253.6 1134.2L1254.3 1155.8L1255 1137.7L1255.7 1150.5L1256.4 1134.8L1257.1 1147.8L1257.8 1133.9L1258.5 1145.7L1259.2 1135.8L1259.9 1146.8L1260.6 1135L1261.3 1144.4L1262 1135.3L1262.7 1148.2L1263.4 1136.9L1264.1 1144.4L1264.8 1135.5L1265.5 1146L1266.2 1136.8L1266.9 1145.5L1267.6 1132.2L1268.3 1149L1269 1136.8L1269.7 1148.4L1270.4 1136.9L1271.1 1144L1271.8 1134.4L1272.5 1144.3L1273.2 1132.6L1273.9 1142.7L1274.6 1130.1L1275.3 1141.8L1276 1129.8L1276.7 1136.9L1277.4 1128.6L1278.1 1132.1L1278.8 1112L1279.5 1134.7L1280.2 1128.1L1280.9 1133.8L1281.6 1124.1L1282.3 1136L1283 1124.1L1283.7 1130.4L1284.4 1125.7L1285.1 1135.3L1285.8 1125.1L1286.5 1134.5L1287.2 1130.8L1287.9 1136.4L1288.6 1120.8L1289.3 1134.4L1290 1128.8L1290.7 1134.9L1291.4 1119.8L1292.1 1137.9L1292.8 1129L1293.5 1134.5L1294.2 1117.2L1294.9 1134.7L1295.6 1126.2L1296.3 1133.3L1297 1119.9L1297.7 1133.7L1298.4 1123.9L1299.1 1131.2L1299.8 1114.7L1300.5 1133.6L1301.2 1118.5L1301.9 1131.8L1302.6 1119.4L1303.3 1128.8L1304 1120.7L1304.7 1134.3L1305.4 1124.6L1306.1 1126.1L1306.8 1127.1L1307.5 1133.3L1308.2 1125L1308.9 1132.6L1309.6 1124.5L1310.3 1135.7L1311 1124.4L1311.7 1135.9L1312.4 1126.2L1313.1 1135.5L1313.8 1122L1314.5 1133.1L1315.2 1121L1315.9 1138.1L1316.6 1124L1317.3 1134L1318 1127.8L1318.7 1135.9L1319.4 1125.7L1320.1 1134.4L1320.8 1123.9L1321.5 1136.6L1322.2 1128.4L1322.9 1136.9L1323.6 1131.7L1324.3 1138.4L1325 1111.5L1325.7 1141.4L1326.4 1131.5L1327.1 1141.7L1327.8 1130.2L1328.5 1141.4L1329.2 1131.3L1329.9 1140L1330.6 1124.5L1331.3 1136.4L1332 1126.1L1332.7 1137.6L1333.4 1125.3L1334.1 1137.4L1334.8 1126.6L1335.5 1137.8L1336.2 1121.3L1336.9 1138.5L1337.6 1120.7L1338.3 1134L1339 1123.7L1339.7 1132.8L1340.4 1123.4L1341.1 1135.3L1341.8 1127.2L1342.5 1137.3L1343.2 1124.3L1343.9 1131L1344.6 1110L1345.3 1139.1L1346 1123.8L1346.7 1135.5L1347.4 1125.8L1348.1 1135.4L1348.8 1122.1L1349.5 1137L1350.2 1121.9L1350.9 1138L1351.6 1130.6L1352.3 1138.8L1353 1130.2L1353.7 1137.3L1354.4 1130.9L1355.1 1138.9L1355.8 1127.9L1356.5 1141.4L1357.2 1126.4L1357.9 1138.6L1358.6 1121.8L1359.3 1139.7L1360 1116L1360.7 1140.1L1361.4 1121.5L1362.1 1139L1362.8 1130.1L1363.5 1139.6L1364.2 1127.7L1364.9 1139.3L1365.6 1127.9L1366.3 1135.2L1367 1125.3L1367.7 1136.7L1368.4 1128.3L1369.1 1138.4L1369.8 1120.3L1370.5 1135.2L1371.2 1126.2L1371.9 1136.4L1372.6 1126.4L1373.3 1133L1374 1122.7L1374.7 1132.3L1375.4 1121.9L1376.1 1136.4L1376.8 1122.5L1377.5 1135.7L1378.2 1117.5L1378.9 1136.2L1379.6 1124.5L1380.3 1138.9L1381 1119.3L1381.7 1133.3L1382.4 1123.9L1383.1 1134.9L1383.8 1125.3L1384.5 1134.1L1385.2 1122.8L1385.9 1133L1386.6 1124.4L1387.3 1134.4L1388 1120L1388.7 1136.7L1389.4 1126.5L1390.1 1133.2L1390.8 1120.8L1391.5 1135.5L1392.2 1122.4L1392.9 1133.9L1393.6 1119.9L1394.3 1134.7L1395 1124L1395.7 1137.4L1396.4 1125.6L1397.1 1135.7L1397.8 1122.7L1398.5 1132.2L1399.2 1119.6L1399.9 1133.1L1400.6 1120.2L1401.3 1135.2L1402 1123.3L1402.7 1134.9L1403.4 1118.7L1404.1 1136.9L1404.8 1122.5L1405.5 1130.8L1406.2 1121.7L1406.9 1130.4L1407.6 1123.1L1408.3 1136.9L1409 1123.4L1409.7 1131.5L1410.4 1119.3L1411.1 1134.5L1411.8 1120.9L1412.5 1133.3L1413.2 1121.3L1413.9 1131.3L1414.6 1125.4L1415.3 1127.8L1416 1121.8L1416.7 1132.8L1417.4 1125L1418.1 1131.7L1418.8 1114.5L1419.5 1133.4L1420.2 1122.8L1420.9 1133.4L1421.6 1122.4L1422.3 1131.6L1423 1126.7L1423.7 1134.1L1424.4 1115.5L1425.1 1132.1L1425.8 1115.1L1426.5 1133.6L1427.2 1124L1427.9 1131.6L1428.6 1115.5L1429.3 1131.6L1430 1119.9L1430.7 1126.1L1431.4 1120.1L1432.1 1127.6L1432.8 1116.2L1433.5 1125.2L1434.2 1112.9L1434.9 1122.7L1435.6 1111.1L1436.3 1122.8L1437 1111.4L1437.7 1122.1L1438.4 1111.4L1439.1 1123.4L1439.8 1100.5L1440.5 1117.7L1441.2 1098.6L1441.9 1116.7L1442.6 1106.8L1443.3 1118L1444 1109.5L1444.7 1115.1L1445.4 1105.3L1446.1 1122.8L1446.8 1109.3L1447.5 1118.4L1448.2 1112.5L1448.9 1119.4L1449.6 1109.6L1450.3 1122.2L1451 1112.5L1451.7 1118.9L1452.4 1111.7L1453.1 1124.6L1453.8 1113.6L1454.5 1121.5L1455.2 1112.8L1455.9 1121.6L1456.6 1113.2L1457.3 1126.2L1458 1118.4L1458.7 1133L1459.4 1113.3L1460.1 1125L1460.8 1116L1461.5 1123.8L1462.2 1118.1L1462.9 1126.1L1463.6 1120.7L1464.3 1127.2L1465 1118.5L1465.7 1131.6L1466.4 1117.2L1467.1 1133.9L1467.8 1119.8L1468.5 1128.9L1469.2 1113.1L1469.9 1128.1L1470.6 1111.9L1471.3 1129.4L1472 1114.2L1472.7 1125.5L1473.4 1117.1L1474.1 1122.5L1474.8 1112L1475.5 1124.7L1476.2 1113.3L1476.9 1124.4L1477.6 1118.1L1478.3 1123.5L1479 1109.5L1479.7 1125.2L1480.4 1115.2L1481.1 1122.7L1481.8 1112.3L1482.5 1123.5L1483.2 1114.9L1483.9 1125.6L1484.6 1113.4L1485.3 1122.8L1486 1108.8L1486.7 1125.6L1487.4 1113.1L1488.1 1120.1L1488.8 1111.7L1489.5 1119.2L1490.2 1106.5L1490.9 1122.8L1491.6 1110.3L1492.3 1116.7L1493 1104.8L1493.7 1116.3L1494.4 1104.3L1495.1 1115.1L1495.8 1102.2L1496.5 1113.7L1497.2 1101.7L1497.9 1112L1498.6 1088.5L1499.3 1111.6L1500 1100.7L1500.7 1108.9L1501.4 1103.7L1502.1 1110.9L1502.8 1101.9L1503.5 1111.8L1504.2 1104.3L1504.9 1111.5L1505.6 1102.1L1506.3 1116.3L1507 1103.2L1507.7 1117.3L1508.4 1101.1L1509.1 1120L1509.8 1108L1510.5 1122L1511.2 1109.7L1511.9 1121.3L1512.6 1115.7L1513.3 1124.6L1514 1114L1514.7 1126.6L1515.4 1112.2L1516.1 1124.2L1516.8 1114.8L1517.5 1124.8L1518.2 1110.4L1518.9 1125.9L1519.6 1112.2L1520.3 1120.5L1521 1114.1L1521.7 1120.3L1522.4 1114.7L1523.1 1122.4L1523.8 1116.4L1524.5 1125L1525.2 1109.5L1525.9 1122.8L1526.6 1113.5L1527.3 1123.7L1528 1115.6L1528.7 1125L1529.4 1106.4L1530.1 1128.8L1530.8 1116.9L1531.5 1124.9L1532.2 1113.3L1532.9 1127.8L1533.6 1117.1L1534.3 1125.5L1535 1117.1L1535.7 1126.3L1536.4 1115L1537.1 1126.8L1537.8 1113.9L1538.5 1123.7L1539.2 1111.2L1539.9 1127.2L1540.6 1111L1541.3 1122L1542 1110.1L1542.7 1121.9L1543.4 1116.3L1544.1 1130L1544.8 1111.1L1545.5 1129L1546.2 1114.3L1546.9 1126.4L1547.6 1115.6L1548.3 1129.5L1549 1120.2L1549.7 1128.2L1550.4 1118.9L1551.1 1130.5L1551.8 1115.7L1552.5 1128.5L1553.2 1124L1553.9 1134.4L1554.6 1129.6L1555.3 1132.8L1556 1120.2L1556.7 1135.6L1557.4 1120.3L1558.1 1138.7L1558.8 1129.6L1559.5 1137.3L1560.2 1126.8L1560.9 1136.9L1561.6 1127.9L1562.3 1138L1563 1127.4L1563.7 1138L1564.4 1127.4L1565.1 1137.5L1565.8 1124.9L1566.5 1134.6L1567.2 1127.5L1567.9 1135.7L1568.6 1127.3L1569.3 1137.8L1570 1126.8L1570.7 1135.2L1571.4 1121.4L1572.1 1137.2L1572.8 1124.5L1573.5 1132.5L1574.2 1124L1574.9 1133.2L1575.6 1110.3L1576.3 1130L1577 1122.3L1577.7 1127L1578.4 1116.1L1579.1 1126.8L1579.8 1117.9L1580.5 1125.3L1581.2 1111.9L1581.9 1118.3L1582.6 1109.3L1583.3 1120.6L1584 1109.9L1584.7 1120L1585.4 1108.1L1586.1 1119.4L1586.8 1110.2L1587.5 1117.6L1588.2 1104.4L1588.9 1111L1589.6 1099.2L1590.3 1112.7L1591 1101.4L1591.7 1110.3L1592.4 1102.6L1593.1 1107.5L1593.8 1100.9L1594.5 1112.2L1595.2 1101.9L1595.9 1109.2L1596.6 1100.3L1597.3 1110.3L1598 1097.5L1598.7 1108.7L1599.4 1097.7L1600.1 1112.3L1600.8 1102.8L1601.5 1115.5L1602.2 1104.4L1602.9 1113L1603.6 1101.8L1604.3 1114.9L1605 1109.2L1605.7 1113.5L1606.4 1106L1607.1 1118.1L1607.8 1109.3L1608.5 1120.1L1609.2 1110.7L1609.9 1118.4L1610.6 1106.5L1611.3 1117.3L1612 1107L1612.7 1115.2L1613.4 1103.2L1614.1 1110.6L1614.8 1109L1615.5 1118L1616.2 1101.9L1616.9 1111.4L1617.6 1101.3L1618.3 1110.5L1619 1096.5L1619.7 1108.1L1620.4 1090.4L1621.1 1106.8L1621.8 1091.4L1622.5 1104.4L1623.2 1088.9L1623.9 1105.1L1624.6 1097.1L1625.3 1103L1626 1091.1L1626.7 1105L1627.4 1096.7L1628.1 1103.9L1628.8 1091.7L1629.5 1105.5L1630.2 1102L1630.9 1109.2L1631.6 1101.5L1632.3 1110.7L1633 1107.6L1633.7 1118.2L1634.4 1109.2L1635.1 1119.5L1635.8 1113.2L1636.5 1118.9L1637.2 1111.7L1637.9 1120.2L1638.6 1110.4L1639.3 1122.5L1640 1112.4L1640.7 1124.6L1641.4 1113.3L1642.1 1120L1642.8 1114.9L1643.5 1126.9L1644.2 1113.4L1644.9 1121.5L1645.6 1108.6L1646.3 1125.4L1647 1112.5L1647.7 1119.2L1648.4 1110.7L1649.1 1121.1L1649.8 1101L1650.5 1117.2L1651.2 1106.3L1651.9 1118.3L1652.6 1109.5L1653.3 1117.7L1654 1105.9L1654.7 1113.2L1655.4 1103.1L1656.1 1111L1656.8 1097.3L1657.5 1107.4L1658.2 1098.7L1658.9 1113.7L1659.6 1096.6L1660.3 1107.6L1661 1102.8L1661.7 1108.7L1662.4 1097.8L1663.1 1109.8L1663.8 1099.6L1664.5 1112.4L1665.2 1100.8L1665.9 1113.8L1666.6 1102.7L1667.3 1113.8L1668 1105.2L1668.7 1115.8L1669.4 1111.5L1670.1 1116.5L1670.8 1112.6L1671.5 1120.5L1672.2 1112.3L1672.9 1123.5L1673.6 1114.2L1674.3 1124.9L1675 1112.3L1675.7 1121.7L1676.4 1111L1677.1 1123.1L1677.8 1112.1L1678.5 1120.9L1679.2 1109.4L1679.9 1117.1L1680.6 1106.3L1681.3 1118.2L1682 1103L1682.7 1120.7L1683.4 1101.6L1684.1 1115.8L1684.8 1102.7L1685.5 1107.6L1686.2 1093.9L1686.9 1105.9L1687.6 1093.7L1688.3 1105.9L1689 1090.9L1689.7 1102.1L1690.4 1087.7L1691.1 1098.6L1691.8 1084.4L1692.5 1094.7L1693.2 1081.8L1693.9 1091.7L1694.6 1085.3L1695.3 1092L1696 1083.6L1696.7 1088.4L1697.4 1076.7L1698.1 1092.6L1698.8 1083L1699.5 1096.1L1700.2 1085.3L1700.9 1096L1701.6 1084L1702.3 1099L1703 1083.7L1703.7 1094.3L1704.4 1081.9L1705.1 1089.2L1705.8 1079.7L1706.5 1091.8L1707.2 1082.4L1707.9 1087L1708.6 1079.2L1709.3 1088.5L1710 1078L1710.7 1087.5L1711.4 1076.6L1712.1 1089.6L1712.8 1075.7L1713.5 1084.9L1714.2 1074.3L1714.9 1087.1L1715.6 1072.3L1716.3 1084.6L1717 1070.1L1717.7 1085L1718.4 1071.9L1719.1 1080.9L1719.8 1067.1L1720.5 1075.7L1721.2 1064.3L1721.9 1073.7L1722.6 1058.2L1723.3 1069.5L1724 1057.2L1724.7 1067.7L1725.4 1051.2L1726.1 1064.2L1726.8 1047.3L1727.5 1055.1L1728.2 1039L1728.9 1047.2L1729.6 1034.3L1730.3 1042.8L1731 1022.3L1731.7 1034L1732.4 1017.7L1733.1 1028.5L1733.8 1011.9L1734.5 1019.7L1735.2 1006L1735.9 1016.4L1736.6 996.6L1737.3 1005.7L1738 987.4L1738.7 997.5L1739.4 984.3L1740.1 990.7L1739.9 983.2L1740.1 989.6L1740.2 981.9L1740.3 988.2L1740.4 978L1740.6 986.2L1740.7 976.6L1740.8 984.8L1740.9 975.3L1741.1 983.4L1741.2 973.9L1741.3 982L1741.4 972L1741.6 980L1741.7 970L1741.8 978L1741.9 969.6L1742.1 975.2L1742.2 967.6L1742.3 973.2L1742.4 965.7L1742.6 971.2L1742.7 963.7L1742.8 969.3L1742.9 961.8L1743.1 967.3L1743.2 960.1L1743.3 967.1L1743.4 958.1L1743.6 965.1L1743.7 956.2L1743.8 963.1L1743.9 954.2L1744.1 961.1L1744.2 952.3L1744.3 959.1L1744.4 950.2L1744.6 957L1744.7 948L1744.8 951.8L1744.9 945.7L1745.1 949.6L1745.2 943.5L1745.3 947.3L1745.4 941.2L1745.6 945.1L1745.7 939L1745.8 942.8L1745.9 936.8L1746.1 943.2L1746.2 934.6L1746.3 940.9L1746.4 932.3L1746.6 938.6L1746.7 930.1L1746.8 936.3L1746.9 927.8L1747.1 934L1747.2 925.6L1747.3 931.8L1747.4 923.6L1747.6 930.2L1747.7 921.3L1747.8 927.9L1747.9 919.1L1748.1 925.6L1748.2 917.1L1748.3 923.6L1748.4 915.2L1748.6 921.7L1748.7 913.3L1748.8 919.8L1748.9 912.3L1749.1 917L1749.2 910.4L1749.3 915.1L1749.4 908.5L1749.6 913.2L1749.7 906.6L1749.8 911.4L1749.9 904.8L1750.1 909.5L1750.2 898.8L1750.3 907.8L1750.4 897L1750.6 905.9L1750.7 895.1L1750.8 904L1750.9 893.3L1751.1 902.1L1751.2 891.4L1751.3 900.2L1751.4 889.6L1751.6 898.4L1751.7 890.5L1751.8 897.2L1751.9 888.3L1752.1 894.9L1752.2 885.5L1752.3 892.1L1752.4 882.8L1752.6 889.3L1752.7 880L1752.8 886.5L1752.9 877.3L1753.1 883.7L1753.2 875.6L1753.3 878.6L1753.4 872.8L1753.6 875.8L1753.7 870L1753.8 873L1753.9 867.2L1754.1 870.2L1754.2 864.5L1754.3 867.5L1754.4 859.5L1754.6 865.5L1754.7 856.7L1754.8 862.7L1754.9 854L1755.1 859.9L1755.2 851.2L1755.3 857.1L1755.4 848.2L1755.6 854L1755.7 845.2L1755.8 851L1755.9 844L1756.1 848.9L1756.2 840.9L1756.3 845.9L1756.4 837.9L1756.6 842.8L1756.7 834.8L1756.8 839.7L1756.9 831.8L1757.1 836.6L1757.2 829L1757.3 832.9L1757.4 826L1757.6 829.8L1757.7 822.9L1757.8 826.8L1757.9 819.9L1758.1 823.7L1758.2 816.8L1758.3 820.6L1758.4 813.3L1758.6 817.1L1758.7 809.6L1758.8 813.2L1758.9 806L1759.1 809.6L1759.2 802.5L1759.3 806.1L1759.4 798.9L1759.6 802.5L1759.7 795.4L1759.8 798.9L1759.9 791.2L1760.1 795.4L1760.2 787.6L1760.3 791.8L1760.4 784.3L1760.6 788.4L1760.7 781.2L1760.8 785.3L1760.9 778.1L1761.1 782.2L1761.2 775L1761.3 779.1L1761.4 772.1L1761.6 775.4L1761.7 769L1761.8 772.3L1761.9 765.9L1762.1 769.2L1762.2 762.8L1762.3 766.1L1762.4 759.7L1762.6 762.9L1762.7 756.6L1762.8 759.8L1762.9 753.4L1763.1 757L1763.2 750.4L1763.3 754L1763.4 747.4L1763.6 751L1763.7 744.4L1763.8 747.9L1763.9 741.4L1764.1 744.9L1764.2 738.2L1764.3 741.9L1764.4 735.2L1764.6 738.9L1764.7 732.2L1764.8 735.8L1764.9 729.2L1765.1 732.8L1765.2 726.2L1765.3 729.8L1765.4 723.2L1765.6 726.8L1765.7 720.5L1765.8 724.2L1765.9 717.5L1766.1 721.1L1766.2 714L1766.3 717.6L1766.4 710.4L1766.6 714.1L1766.7 706.9L1766.8 710.6L1766.9 703.4L1767.1 707L1767.2 699.6L1767.3 704.8L1767.4 696.1L1767.6 701.3L1767.7 692.6L1767.8 697.7L1767.9 689.1L1768.1 694.2L1768.2 685.6L1768.3 690.6L1768.4 680.9L1768.6 685.9L1768.7 677.4L1768.8 682.4L1768.9 673.9L1769.1 678.8L1769.2 671.1L1769.3 675.9L1769.4 668.6L1769.6 673.4L1769.7 666.1L1769.8 670.9L1769.9 664.3L1770.1 668L1770.2 661.8L1770.3 665.5L1770.4 659.3L1770.6 663L1770.7 656.8L1770.8 660.5L1770.9 654.3L1771.1 658L1771.2 652.1L1771.3 656.2L1771.4 649.6L1771.6 653.7L1771.7 647.1L1771.8 651.2L1771.9 644.5L1772.1 648.6L1772.2 641.9L1772.3 646L1772.4 639.3L1772.6 643.4L1772.7 637.3L1772.8 640.8L1772.9 633.4L1773.1 636.8L1773.2 629.1L1773.3 632.5L1773.4 624.9L1773.6 628.3L1773.7 620.6L1773.8 624L1773.9 614.8L1774.1 619.5L1774.2 610.4L1774.3 615L1774.4 605.5L1774.6 610L1774.7 600.5L1774.8 605L1774.9 595.6L1775.1 600L1775.2 590.6L1775.3 595L1775.4 586.2L1775.6 589.8L1775.7 581.9L1775.8 585.5L1775.9 578L1776.1 581.6L1776.2 574.2L1776.3 577.7L1776.4 570.3L1776.6 573.8L1776.7 566.2L1776.8 569.7L1776.9 562L1777.1 565.2L1777.2 557.6L1777.3 560.9L1777.4 553.3L1777.6 556.5L1777.7 548.9L1777.8 552.2L1777.9 544.6L1778.1 547.8L1778.2 540.4L1778.3 544.1L1778.4 536.1L1778.6 539.7L1778.7 531.7L1778.8 535.3L1778.9 527.6L1779.1 531.2L1779.2 523.5L1779.3 527L1779.4 519.3L1779.6 522.9L1779.7 515.1L1779.8 518.5L1779.9 511L1780.1 514.3L1780.2 506.9L1780.3 510.2L1780.4 502.7L1780.6 506L1780.7 498.6L1780.8 501.9L1780.9 494.5L1781.1 497.8L1781.2 490.2L1781.3 493.7L1781.4 486L1781.6 489.6L1781.7 482.5L1781.8 486.1L1781.9 479.1L1782.1 482.6L1782.2 475.6L1782.3 479.1L1782.4 472.4L1782.6 475.8L1782.7 468.9L1782.8 472.3L1782.9 465.4L1783.1 468.8L1783.2 461.9L1783.3 465.3L1783.4 458.4L1783.6 461.8L1783.7 454.8L1783.8 458.1L1783.9 451.1L1784.1 453.8L1784.2 447.3L1784.3 450.1L1784.4 443.6L1784.6 446.3L1784.7 439.9L1784.8 442.6L1784.9 436.1L1785.1 438.9L1785.2 432.1L1785.3 435.4L1785.4 428.4L1785.6 431.6L1785.7 425.1L1785.8 428.3L1785.9 422.2L1786.1 425.4L1786.2 419.2L1786.3 422.4L1786.4 416.2L1786.6 419.4L1786.7 413.1L1786.8 416.4L1786.9 410.2L1787.1 413.4L1787.2 407.2L1787.3 410.4L1787.4 404.2L1787.6 407.5L1787.7 401.2L1787.8 404.5L1787.9 398.4L1788.1 401.4L1788.2 395.4L1788.3 398.4L1788.4 392.5L1788.6 395.4L1788.7 389.5L1788.8 392.4L1788.9 387L1789.1 389.9L1789.2 384.5L1789.3 387.4L1789.4 382.1L1789.6 385L1789.7 379.6L1789.8 382.5L1789.9 377.1L1790.1 380L1790.2 374.6L1790.3 377.5L1790.4 372.1L1790.6 375L1790.7 369.6L1790.8 372.5L1790.9 367.2L1791.1 369.9L1791.2 364.7L1791.3 367.4L1791.4 362.2L1791.6 364.9L1791.7 359.7L1791.8 362.4L1791.9 357.2L1792.1 359.9L1792.2 354.6L1792.3 357.3L1792.4 352.1L1792.6 354.8L1792.7 349.1L1792.8 351.8L1792.9 346L1793.1 348.8L1793.2 343L1793.3 345.7L1793.4 340L1793.6 342.7L1793.7 336.9L1793.8 339.8L1793.9 333.9L1794.1 336.8L1794.2 330.8L1794.3 333.8L1794.4 327.8L1794.6 330.8L1794.7 324.8L1794.8 327.7L1794.9 321.8L1795.1 324.7L1795.2 318.9L1795.3 321.7L1795.4 315.9L1795.6 318.7L1795.7 313L1795.8 315.8L1795.9 310.1L1796.1 313L1796.2 307.3L1796.3 310.1L1796.4 304.3L1796.6 307.3L1796.7 301.5L1796.8 304.5L1796.9 298.6L1797.1 301.6L1797.2 295.8L1797.3 298.8L1797.4 293L1797.6 295.9L1797.7 290.1L1797.8 293.1L1797.9 287.6L1798.1 290.3L1798.2 284.8L1798.3 287.4L1798.4 281.9L1798.6 284.6L1798.7 279.1L1798.8 281.8L1798.9 276.5L1799.1 279.2L1799.2 274.1L1799.3 276.8L1799.4 271.8L1799.6 274.6L1799.7 269.6L1799.8 272.3L1799.9 267.4L1800.1 270.1L1800.2 265.1L1800.3 267.9L1800.4 262.9L1800.6 265.6L1800.7 260.6L1800.8 263.4L1800.9 258.4L1801.1 261.1L1801.2 256.2L1801.3 258.9L1801.4 253.9L1801.6 256.7L1801.7 251.7L1801.8 254.4L1801.9 249.4L1802.1 252.3L1802.2 247.2L1802.3 250L1802.4 244.4L1802.6 247.2L1802.7 241.7L1802.8 244.5L1802.9 238.9L1803.1 241.7L1803.2 236.1L1803.3 238.9L1803.4 233.3L1803.6 236.1L1803.7 230.6L1803.8 233.3L1803.9 227.8L1804.1 230.5L1804.2 225L1804.3 227.8L1804.4 222.2L1804.6 225L1804.7 219.6L1804.8 222.4L1804.9 217.2L1805.1 219.8L1805.2 214.6L1805.3 217.2L1805.4 212L1805.6 214.6L1805.7 209.4L1805.8 212L1805.9 206.8L1806.1 209.4L1806.2 204.2L1806.3 206.7L1806.4 201.6L1806.6 204.1L1806.7 199L1806.8 201.5L1806.9 196.4L1807.1 198.9L1807.2 193.9L1807.3 196.4L1807.4 191.4L1807.6 193.9L1807.7 188.9L1807.8 191.5L1807.9 186.4L1808.1 189L1808.2 183.9L1808.3 186.6L1808.4 181.4L1808.6 184.1L1808.7 178.9L1808.8 181.6L1808.9 176.5L1809.1 179.1L1809.2 173.9L1809.3 176.5L1809.4 171.4L1809.6 174L1809.7 169L1809.8 171.6L1809.9 166.6L1810.1 169.2L1810.2 164.2L1810.3 166.8L1810.4 161.6L1810.6 164.4L1810.7 159.2L1810.8 162L1810.9 156.8L1811.1 159.6L1811.2 154.4L1811.3 157.2L1811.4 152L1811.6 154.8L1811.7 149.6L1811.8 152.4L1811.9 147.3L1812.1 150L1812.2 145.3L1812.3 147.9L1812.4 143.2L1812.6 145.9L1812.7 141.1L1812.8 143.8L1812.9 139L1813.1 141.7L1813.2 136.9L1813.3 139.6L1813.4 134.8L1813.6 137.5L1813.7 133.4L1813.8 136L1813.9 131.9L1814.1 134.5L1814.2 130.4L1814.3 133L1814.4 128.9L1814.6 131.6L1814.7 127.5L1814.8 130.1L1814.9 126L1815.1 128.7L1815.2 124.5L1815.3 127.2L1815.4 123L1815.6 125.7L1815.7 121.9L1815.8 124.6L1815.9 121L1816.1 123.8L1816.2 120.2L1816.3 123L1816.4 119.4L1816.6 122.1L1816.7 118.6L1816.8 121.3L1816.9 117.8L1817.1 120.5L1817.2 116.9L1817.3 119.7L1817.4 116L1817.6 118.8L1817.7 115.7L1817.8 118.4L1817.9 115.3L1818.1 118L1818.2 114.9L1818.3 117.7L1818.4 114.5L1818.6 117.3L1818.7 114.2L1818.8 116.9L1818.9 113.9L1819.1 116.7L1819.2 113.9L1819.3 116.3L1819.4 113.9L1819.6 115.9L1819.7 113.9L1819.8 115.6L1819.9 113.9L1820.1 115.2L1820.2 113.9L1820.3 114.9L1820.4 113.9L1820.6 114.7L1820.7 113.9L1820.8 114.6L1820.9 113.9L1821.1 114.4L1821.2 113.9L1821.3 114.3L1821.4 113.9L1821.6 114.2L1821.7 113.9L1821.8 114L1821.9 113.9L1822.1 113.9L1822.2 113.9L1822.3 113.9L1822.4 113.9L1822.6 113.9L1822.7 113.9L1822.8 113.9L1822.9 113.9L1823.1 113.9L1823.2 113.9L1823.3 113.9L1823.4 113.9L1823.6 113.9L1823.7 113.9L1823.8 113.9L1823.9 113.9L1824.1 113.9L1824.2 113.9L1824.3 113.9L1824.4 113.9L1824.6 113.9L1824.7 113.9L1824.8 113.9L1824.9 113.9L1825.1 113.9L1825.2 113.9L1825.3 113.9L1825.4 113.9L1825.6 113.9L1825.7 113.9L1825.8 113.9L1825.9 113.9L1826.1 113.9L1826.2 113.9L1826.3 113.9L1826.4 113.9L1826.6 113.9L1826.7 113.9L1826.8 113.9L1826.9 113.9L1827.1 113.9L1827.2 113.9L1827.3 113.9L1827.4 113.9L1827.6 113.9L1827.7 113.9L1827.8 113.9L1827.9 113.9L1828.1 113.9L1828.2 113.9L1828.3 113.9L1828.4 113.9L1828.6 113.9L1828.7 113.9L1828.8 113.9L1828.9 113.9L1829.1 113.9L1829.2 113.9L1829.3 113.9L1829.4 113.9L1829.6 113.9L1829.7 113.9L1829.8 113.9L1829.9 113.9L1830.1 113.9L1830.2 113.9L1830.3 113.9L1830.4 113.9L1830.6 113.9L1830.7 113.9L1830.8 113.9L1830.9 113.9L1831.1 113.9L1831.2 113.9L1831.3 113.9L1831.4 113.9L1831.6 113.9L1831.7 113.9L1831.8 113.9L1831.9 113.9L1832.1 113.9L1832.2 113.9L1832.3 113.9L1832.4 113.9L1832.6 113.9L1832.7 113.9L1832.8 113.9L1832.9 113.9L1833.1 113.9L1833.2 113.9L1833.3 113.9L1833.4 113.9L1833.6 113.9L1833.7 113.9L1833.8 113.9L1833.9 113.9L1834.1 113.9L1834.2 113.9L1834.3 113.9L1834.4 113.9L1834.6 113.9L1834.7 113.9L1834.8 113.9L1834.9 113.9L1835.1 113.9L1835.2 113.9L1835.3 113.9L1835.4 113.9L1835.6 113.9L1835.7 113.9L1835.8 113.9L1835.9 113.9L1836.1 113.9L1836.2 113.9L1836.3 113.9L1836.4 113.9L1836.6 113.9L1836.7 113.9L1836.8 113.9L1836.9 113.9L1837.1 113.9L1837.2 113.9L1837.3 113.9L1837.4 113.9L1837.6 113.9L1837.7 113.9L1837.8 113.9L1837.9 113.9L1838.1 113.9L1838.2 113.9L1838.3 113.9L1838.4 113.9L1838.6 113.9L1838.7 113.9L1838.8 113.9L1838.9 113.9L1839.1 113.9L1839.2 113.9L1839.3 113.9L1839.4 113.9L1839.6 113.9L1839.7 113.9L1839.8 113.9L1839.9 113.9L1840.1 113.9L1840.2 113.9L1840.3 113.9L1840.4 113.9L1840.6 113.9L1840.7 113.9L1840.8 113.9L1840.9 113.9L1841.1 113.9L1841.2 113.9L1841.3 113.9L1841.4 113.9L1841.6 113.9L1841.7 113.9L1841.8 113.9L1841.9 113.9L1842.1 113.9L1842.2 113.9L1842.3 113.9L1842.4 113.9L1842.6 113.9" stroke="#ff0000"/>
<path d="M209.4 113.9L209.6 113.9L209.7 113.9L209.8 113.9L209.9 113.9L210.1 113.9L210.2 113.9L210.3 113.9L210.4 113.9L210.6 113.9L210.7 113.9L210.8 113.9L210.9 113.9L211.1 113.9L211.2 113.9L211.3 113.9L211.4 113.9L211.6 113.9L211.7 113.9L211.8 113.9L211.9 113.9L212.1 113.9L212.2 113.9L212.3 113.9L212.4 113.9L212.6 113.9L212.7 113.9L212.8 113.9L212.9 113.9L213.1 113.9L213.2 113.9L213.3 113.9L213.4 113.9L213.6 113.9L213.7 113.9L213.8 113.9L213.9 113.9L214.1 113.9L214.2 113.9L214.3 113.9L214.4 113.9L214.6 113.9L214.7 113.9L214.8 113.9L214.9 113.9L215.1 113.9L215.2 113.9L215.3 113.9L215.4 113.9L215.6 113.9L215.7 113.9L215.8 113.9L215.9 113.9L216.1 113.9L216.2 113.9L216.3 113.9L216.4 113.9L216.6 113.9L216.7 113.9L216.8 113.9L216.9 113.9L217.1 113.9L217.2 113.9L217.3 113.9L217.4 113.9L217.6 113.9L217.7 113.9L217.8 113.9L217.9 113.9L218.1 113.9L218.2 113.9L218.3 113.9L218.4 113.9L218.6 113.9L218.7 113.9L218.8 113.9L218.9 113.9L219.1 113.9L219.2 113.9L219.3 113.9L219.4 113.9L219.6 113.9L219.7 113.9L219.8 113.9L219.9 113.9L220.1 113.9L220.2 113.9L220.3 113.9L220.4 113.9L220.6 113.9L220.7 113.9L220.8 113.9L220.9 113.9L221.1 113.9L221.2 113.9L221.3 113.9L221.4 113.9L221.6 113.9L221.7 113.9L221.8 113.9L221.9 113.9L222.1 113.9L222.2 113.9L222.3 113.9L222.4 113.9L222.6 113.9L222.7 113.9L222.8 113.9L222.9 113.9L223.1 113.9L223.2 113.9L223.3 113.9L223.4 113.9L223.6 113.9L223.7 113.9L223.8 113.9L223.9 113.9L224.1 113.9L224.2 113.9L224.3 113.9L224.4 113.9L224.6 113.9L224.7 113.9L224.8 113.9L224.9 113.9L225.1 113.9L225.2 113.9L225.3 113.9L225.4 113.9L225.6 113.9L225.7 113.9L225.8 113.9L225.9 113.9L226.1 113.9L226.2 113.9L226.3 113.9L226.4 113.9L226.6 113.9L226.7 113.9L226.8 113.9L226.9 113.9L227.1 113.9L227.2 113.9L227.3 113.9L227.4 113.9L227.6 113.9L227.7 113.9L227.8 113.9L227.9 113.9L228.1 113.9L228.2 113.9L228.3 113.9L228.4 113.9L228.6 113.9L228.7 113.9L228.8 113.9L228.9 113.9L229.1 113.9L229.2 113.9L229.3 113.9L229.4 113.9L229.6 113.9L229.7 113.9L229.8 113.9L229.9 113.9L230.1 113.9L230.2 113.9L230.3 113.9L230.4 113.9L230.6 113.9L230.7 113.9L230.8 113.9L230.9 113.9L231.1 113.9L231.2 113.9L231.3 113.9L231.4 113.9L231.6 113.9L231.7 113.9L231.8 113.9L231.9 113.9L232.1 113.9L232.2 113.9L232.3 113.9L232.4 113.9L232.6 113.9L232.7 113.9L232.8 113.9L232.9 113.9L233.1 113.9L233.2 113.9L233.3 113.9L233.4 113.9L233.6 113.9L233.7 113.9L233.8 113.9L233.9 113.9L234.1 113.9L234.2 113.9L234.3 113.9L234.4 113.9L234.6 113.9L234.7 113.9L234.8 113.9L234.9 113.9L235.1 113.9L235.2 113.9L235.3 113.9L235.4 113.9L235.6 113.9L235.7 113.9L235.8 113.9L235.9 113.9L236.1 113.9L236.2 113.9L236.3 113.9L236.4 113.9L236.6 113.9L236.7 113.9L236.8 113.9L236.9 113.9L237.1 113.9L237.2 113.9L237.3 113.9L237.4 113.9L237.6 113.9L237.7 113.9L237.8 113.9L237.9 113.9L238.1 113.9L238.2 113.9L238.3 114L238.4 113.9L238.6 114.1L238.7 114L238.8 114.2L238.9 114.1L239.1 114.3L239.2 114.3L239.3 114.4L239.4 114.5L239.6 114.6L239.7 114.7L239.8 114.7L239.9 114.8L240.1 114.9L240.2 115L240.3 115.1L240.4 115.4L240.6 115.5L240.7 115.8L240.8 115.9L240.9 116.2L241.1 116.3L241.2 116.7L241.3 116.7L241.4 117.1L241.6 117.1L241.7 117.5L241.8 117.6L241.9 117.9L242.1 118L242.2 118.3L242.3 118.4L242.4 118.7L242.6 118.8L242.7 119.5L242.8 119.6L242.9 120.3L243.1 120.4L243.2 121.2L243.3 121.2L243.4 122L243.6 122.1L243.7 122.8L243.8 122.9L243.9 123.6L244.1 123.8L244.2 124.4L244.3 124.6L244.4 125.4L244.6 125.6L244.7 126.9L244.8 127.1L244.9 128.3L245.1 128.5L245.2 129.7L245.3 129.9L245.4 131.1L245.6 131.3L245.7 132.6L245.8 132.7L245.9 134L246.1 134.1L246.2 135.4L246.3 135.6L246.4 136.8L246.6 137L246.7 138.7L246.8 138.9L246.9 140.8L247.1 141L247.2 142.9L247.3 143L247.4 145L247.6 145.1L247.7 147.1L247.8 147.2L247.9 149.2L248.1 149.2L248.2 151.4L248.3 151.4L248.4 153.7L248.6 153.8L248.7 156L248.8 156.1L248.9 158.3L249.1 158.4L249.2 160.6L249.3 160.7L249.4 162.9L249.6 163L249.7 165.2L249.8 165.4L249.9 167.5L250.1 167.7L250.2 169.8L250.3 170L250.4 172.1L250.6 172.3L250.7 174.7L250.8 174.8L250.9 177.4L251.1 177.5L251.2 180.1L251.3 180.2L251.4 182.8L251.6 182.9L251.7 185.5L251.8 185.6L251.9 188.2L252.1 188.3L252.2 190.9L252.3 190.9L252.4 193.5L252.6 193.6L252.7 196.2L252.8 196.3L252.9 198.9L253.1 199L253.2 201.5L253.3 201.5L253.4 204L253.6 204L253.7 206.3L253.8 206.5L253.9 208.8L254.1 209L254.2 211.3L254.3 211.5L254.4 213.8L254.6 214L254.7 216.3L254.8 216.5L254.9 218.8L255.1 219L255.2 221.4L255.3 221.6L255.4 223.9L255.6 224.2L255.7 226.4L255.8 226.7L255.9 228.9L256.1 229.2L256.2 231.4L256.3 231.7L256.4 233.9L256.6 234.1L256.7 236.4L256.8 236.6L256.9 238.9L257.1 239.1L257.2 241.4L257.3 241.6L257.4 243.9L257.6 244.1L257.7 246.4L257.8 246.6L257.9 248.7L258.1 249L258.2 251.1L258.3 251.4L258.4 253.5L258.6 253.8L258.7 255.8L258.8 256.1L258.9 258.1L259.1 258.5L259.2 260.8L259.3 260.9L259.4 263.1L259.6 263.3L259.7 265.5L259.8 265.6L259.9 267.8L260.1 268L260.2 270.2L260.3 270.3L260.4 272.5L260.6 272.6L260.7 274.7L260.8 275L260.9 277L261.1 277.4L261.2 279.4L261.3 279.7L261.4 281.9L261.6 282.2L261.7 284.4L261.8 284.8L261.9 286.9L262.1 287.3L262.2 289.4L262.3 289.8L262.4 292L262.6 292.4L262.7 294.5L262.8 294.9L262.9 297.1L263.1 297.5L263.2 299.6L263.3 300L263.4 302.3L263.6 302.5L263.7 304.9L263.8 305L263.9 308.2L264.1 308.4L264.2 311.6L264.3 311.8L264.4 315L264.6 315.1L264.7 318.4L264.8 318.5L264.9 321.7L265.1 321.9L265.2 325.1L265.3 325.3L265.4 328.5L265.6 328.7L265.7 332.7L265.8 332.9L265.9 337.5L266.1 337.7L266.2 342.4L266.3 342.5L266.4 347.2L266.6 347.3L266.7 352L266.8 352.1L266.9 356.7L267.1 356.8L267.2 361.1L267.3 361.3L267.4 363.1L267.6 363.3L267.7 365.2L267.8 365.4L267.9 367.2L268.1 367.4L268.2 369.2L268.3 369.4L268.4 371.2L268.6 371.4L268.7 373.2L268.8 373.4L268.9 375.2L269.1 375.4L269.2 377.2L269.3 377.4L269.4 379.2L269.6 379.4L269.7 381.6L269.8 381.9L269.9 384.3L270.1 384.6L270.2 387.1L270.3 387.3L270.4 389.8L270.6 390L270.7 392.5L270.8 392.8L270.9 395.3L271.1 395.5L271.2 398L271.3 398.2L271.4 400.7L271.6 400.9L271.7 403.4L271.8 403.6L271.9 405.8L272.1 406.5L272.2 409L272.3 409.6L272.4 412.1L272.6 412.8L272.7 415.2L272.8 415.9L272.9 417.6L273.1 418.4L273.2 419.2L273.3 419.9L273.4 420.7L273.6 421.4L273.7 422.1L273.8 422.8L273.9 423.5L274.1 424.2L274.2 424.5L274.3 425.2L274.4 425.5L274.6 426.2L274.7 426.4L274.8 426.9L274.9 427.4L275.1 427.8L275.2 428.4L275.3 428.8L275.4 429.4L275.6 429.8L275.7 430.7L275.8 431.1L275.9 432.3L276.1 432.6L276.2 433.8L276.3 434.1L276.4 435.3L276.6 435.6L276.7 436.8L276.8 437.1L276.9 438.4L277.1 438.6L277.2 439.9L277.3 440.2L277.4 442.7L277.6 443.2L277.7 445.5L277.8 446L277.9 449.1L278.1 449.6L278.2 453.5L278.3 454L278.4 458L278.6 458.5L278.7 462L278.8 462.5L278.9 465.3L279.1 466.1L279.2 469L279.3 469.7L279.4 472.6L279.6 473.4L279.7 476.3L279.8 477.1L279.9 480L280.1 480.8L280.2 484.2L280.3 484.7L280.4 487.8L280.6 488.4L280.7 492L280.8 492.6L280.9 496.6L281.1 497.1L281.2 501.2L281.3 501.7L281.4 505.7L281.6 506.3L281.7 510.2L281.8 510.8L281.9 514.7L282.1 515.4L282.2 519.3L282.3 520L282.4 523.8L282.6 524.5L282.7 528.4L282.8 529.1L282.9 533L283.1 533.7L283.2 537.3L283.3 537.6L283.4 541.9L283.6 542.2L283.7 546.5L283.8 546.7L283.9 551L284.1 551.3L284.2 555.6L284.3 555.9L284.4 560.4L284.6 560.9L284.7 564.9L284.8 565.5L284.9 569.5L285.1 570.1L285.2 574.1L285.3 574.7L285.4 578.6L285.6 579.3L285.7 583.2L285.8 583.8L285.9 587.3L286.1 588.4L286.2 592.5L286.3 593.7L286.4 597.7L286.6 598.9L286.7 602.9L286.8 604.1L286.9 608.1L287.1 609.3L287.2 613.5L287.3 614.5L287.4 618.7L287.6 619.7L287.7 623.9L287.8 625L287.9 629.1L288.1 630.2L288.2 634.3L288.3 635.4L288.4 639.5L288.6 640.6L288.7 644.7L288.8 645.3L288.9 649.9L289.1 650.5L289.2 655.1L289.3 655.7L289.4 659.8L289.6 660.4L289.7 663.7L289.8 664.3L289.9 667.9L290.1 669.3L290.2 671.8L290.3 673.2L290.4 675.7L290.6 677.1L290.7 678.5L290.8 680L290.9 680.7L291.1 682.2L291.2 682.8L291.3 684.3L291.4 684.5L291.6 686.3L291.7 686.7L291.8 688.5L291.9 688.8L292.1 690.7L292.2 691L292.3 692.8L292.4 693.1L292.6 695L292.7 695.3L292.8 697.1L292.9 698.6L293.1 699.8L293.2 700.8L293.3 701.9L293.4 702.9L293.6 704.1L293.7 705.1L293.8 706.4L293.9 707.4L294.1 708.6L294.2 708.6L294.3 709.7L294.4 710.8L294.6 712L294.7 713L294.8 714.2L294.9 715.3L295.1 716.4L295.2 717.5L295.3 718.7L295.4 719.7L295.6 720.9L295.7 722.3L295.8 723.7L295.9 725.1L296.1 726.6L296.2 728L296.3 729.4L296.4 730.8L296.6 732.3L296.7 733.6L296.8 735.1L296.9 737.3L297.1 738.1L297.2 740.1L297.3 740.9L297.4 743.7L297.6 744.5L297.7 747.3L297.8 748.1L297.9 750.9L298.1 751.7L298.2 754.4L298.3 755.3L298.4 756L298.6 759.9L298.7 759.6L298.8 763.5L298.9 763.1L299.1 767.1L299.2 765.6L299.3 769.6L299.4 768.1L299.6 772.1L299.7 770.5L299.8 774.6L299.9 773.3L300.1 775.7L300.2 775.8L300.3 778.2L300.4 778.3L300.6 780.7L300.7 780.8L300.8 783.2L300.9 783.3L301.1 785.7L301.2 786.5L301.3 787.5L301.4 789L301.6 790L301.7 791L301.8 791.9L301.9 792.9L302.1 793.9L302.2 794.9L302.3 795.8L302.4 796.8L302.6 797.8L302.7 799.9L302.8 801L302.9 801.9L303.1 802.9L303.2 803.9L303.3 805L303.4 806L303.6 807L303.7 808.1L303.8 809.1L303.9 808.1L304.1 811.4L304.2 810.2L304.3 813.5L304.4 812.2L304.6 815.6L304.7 814.3L304.8 817.7L304.9 816.4L305.1 819.8L305.2 818.5L305.3 821.9L305.4 823.3L305.6 823.7L305.7 825.5L305.8 825.9L305.9 827.7L306.1 828.2L306.2 830L306.3 830.4L306.4 832.2L306.6 832.7L306.7 834.4L306.8 834.9L306.9 833.8L307.1 835.9L307.2 836L307.3 838.1L307.4 838.2L307.6 840.4L307.7 840.4L307.8 842.6L307.9 842.6L308.1 844.8L308.2 846.6L308.3 849.6L308.4 848.9L308.6 851.9L308.7 851.1L308.8 854.1L308.9 853.3L309.1 856.4L309.2 855.5L309.3 858.6L309.4 857.9L309.6 861L309.7 858.4L309.8 861.2L309.9 860.8L310.1 863.7L310.2 863.3L310.3 866.2L310.4 865.8L310.6 868.7L310.7 868.3L310.8 871.2L310.9 870.7L311.1 873.7L311.2 873.8L311.3 877.5L311.4 876.3L311.6 880L311.7 878.8L311.8 882.5L311.9 880.9L312.1 884.6L312.2 882.3L312.3 886.1L312.4 884L312.6 885.8L312.7 885.5L312.8 887.2L312.9 886.9L313.1 888.7L313.2 888.3L313.3 890.1L313.4 889.7L313.6 891.6L313.7 891.2L313.8 893L313.9 893L314.1 895.1L314.2 894.5L314.3 896.5L314.4 895.9L314.6 898L314.7 897.3L314.8 899.4L314.9 898.7L315.1 900.8L315.2 900.8L315.3 902.1L315.4 902.2L315.6 903.5L315.7 903.7L315.8 905L315.9 905.1L316.1 906.4L316.2 906.5L316.3 907.9L316.4 908.7L316.6 910.1L316.7 908.5L316.8 914L316.9 910.7L317.1 916.2L317.2 912.9L317.3 918.4L317.4 915L317.6 920.6L317.7 917.2L317.8 922.8L317.9 920.2L318.1 925.1L318.2 922.3L318.3 927.3L318.4 924.4L318.6 929.4L318.7 926.5L318.8 931.6L318.9 928.6L319.1 933.7L319.2 930.7L319.3 935.9L319.4 932.9L319.6 936.9L319.7 935L319.8 939L319.9 937.1L320.1 941.1L320.2 939.2L320.3 943.3L320.4 941.3L320.6 945.4L320.7 943L320.8 947.1L320.9 946L321.1 948.6L321.2 947.4L321.3 950L321.4 948.9L321.6 951.4L321.7 950.3L321.8 952.9L321.9 951.7L322.1 954.3L322.2 951.2L322.3 957.3L322.4 952.6L322.6 958.7L322.7 954L322.8 960.1L322.9 955.4L323.1 961.6L323.2 956.8L323.3 963L323.4 958.2L323.6 964.4L323.7 962.9L323.8 964.4L323.9 964.3L324.1 965.9L324.2 965.7L324.3 967.3L324.4 967.1L324.6 968.7L324.7 968.5L324.8 970.2L324.9 970L325.1 971.6L325.2 969.7L325.3 972.6L325.4 970.9L325.6 973.8L325.7 972.1L325.8 975L325.9 973.3L326.1 976.2L326.2 974.5L326.3 977.4L326.4 975.4L326.6 981.1L326.7 976.6L326.8 982.3L326.9 977.8L327.1 983.5L327.2 979L327.3 984.8L327.4 980.2L327.6 986L327.7 981.4L327.8 987.2L327.9 982.9L328.1 987.2L328.2 984.1L328.3 988.4L328.4 985.3L328.6 989.6L328.7 986.5L328.8 990.9L328.9 987.7L329.1 992.1L329.2 988.8L329.3 994.3L329.4 990L329.6 995.6L329.7 991.2L329.8 996.8L329.6 992.4L330.4 998L331 998.3L331.8 1001.8L332.4 1008.5L333.1 1013.8L333.8 1018.4L334.5 1025.1L335.2 1032L335.9 1033.7L336.6 1034.5L337.3 1042L338 1039.7L338.7 1058.4L339.4 1049.4L340.1 1058.4L340.8 1048.9L341.5 1057L342.2 1052L342.9 1063.1L343.6 1054.5L344.3 1059.2L345 1061.7L345.7 1071.7L346.4 1063.9L347.1 1068.4L347.8 1053.7L348.5 1079.5L349.2 1068.1L349.9 1080.9L350.6 1071.7L351.3 1080.4L352 1069.5L352.7 1083.8L353.4 1080L354.1 1089.1L354.8 1080.8L355.5 1090.5L356.2 1085.4L356.9 1103.1L357.6 1088.7L358.3 1096.4L359 1095.1L359.7 1099.5L360.4 1090.9L361.1 1105.9L361.8 1097.2L362.5 1109.3L363.2 1099.9L363.9 1110L364.6 1098L365.3 1111.8L366 1110.6L366.7 1115L367.4 1101.5L368.1 1109.3L368.8 1104.2L369.5 1113.5L370.2 1103.4L370.9 1116.6L371.6 1102L372.3 1115.4L373 1107.5L373.7 1119L374.4 1105.5L375.1 1119.3L375.8 1105.3L376.5 1114.7L377.2 1111.7L377.9 1116.1L378.6 1108.8L379.3 1117.8L380 1109.2L380.7 1116.9L381.4 1109.1L382.1 1113.5L382.8 1109.2L383.5 1116.8L384.2 1108.7L384.9 1122.8L385.6 1110.2L386.3 1115.5L387 1111.1L387.7 1113.6L388.4 1106.9L389.1 1115.1L389.8 1110.7L390.5 1114L391.2 1112.2L391.9 1114.9L392.6 1115L393.3 1120.9L394 1114.4L394.7 1120.4L395.4 1110.1L396.1 1118.5L396.8 1115.4L397.5 1117.8L398.2 1113.9L398.9 1121.7L399.6 1112.4L400.3 1121L401 1112.7L401.7 1121.8L402.4 1117.5L403.1 1125.8L403.8 1114.8L404.5 1127.6L405.2 1113.3L405.9 1130.9L406.6 1116.9L407.3 1120.8L408 1115.3L408.7 1125.4L409.4 1115.9L410.1 1118.3L410.8 1117.1L411.5 1125.9L412.2 1117.1L412.9 1123.5L413.6 1114.8L414.3 1120.6L415 1120.3L415.7 1124.2L416.4 1120.4L417.1 1122.5L417.8 1116.9L418.5 1125.1L419.2 1114.6L419.9 1126L420.6 1119.4L421.3 1126.9L422 1117.3L422.7 1127L423.4 1112.7L424.1 1127.2L424.8 1120.4L425.5 1126L426.2 1116.8L426.9 1118.2L427.6 1120.3L428.3 1124.7L429 1116.2L429.7 1129.3L430.4 1122.1L431.1 1127.9L431.8 1122.2L432.5 1129.1L433.2 1117.4L433.9 1126.2L434.6 1115.9L435.3 1127.5L436 1128.6L436.7 1130L437.4 1126.5L438.1 1132.3L438.8 1120L439.5 1128.2L440.2 1119.6L440.9 1131.9L441.6 1126.4L442.3 1133.7L443 1127.9L443.7 1128.4L444.4 1119.7L445.1 1133.9L445.8 1127.1L446.5 1135.1L447.2 1122.7L447.9 1129L448.6 1125.1L449.3 1131.4L450 1126.9L450.7 1132.9L451.4 1123L452.1 1131.3L452.8 1127.1L453.5 1132.7L454.2 1130.2L454.9 1134.4L455.6 1130.1L456.3 1137.4L457 1122.3L457.7 1142.3L458.4 1128.9L459.1 1139L459.8 1127.6L460.5 1137.5L461.2 1131.2L461.9 1136.2L462.6 1127.6L463.3 1138.5L464 1127.9L464.7 1130L465.4 1127.8L466.1 1133.2L466.8 1125.1L467.5 1134.5L468.2 1125L468.9 1137.9L469.6 1128.6L470.3 1136L471 1130.2L471.7 1135L472.4 1128.7L473.1 1137.1L473.8 1129.2L474.5 1140.9L475.2 1134.6L475.9 1139.9L476.6 1128L477.3 1136.8L478 1135.3L478.7 1140.5L479.4 1126.8L480.1 1137.9L480.8 1134.2L481.5 1137.5L482.2 1135.9L482.9 1140.9L483.6 1130.3L484.3 1141.2L485 1132.7L485.7 1143.2L486.4 1137.7L487.1 1145L487.8 1139L488.5 1146.2L489.2 1138.6L489.9 1146L490.6 1137.8L491.3 1140.1L492 1138L492.7 1141.6L493.4 1138.9L494.1 1140.6L494.8 1132.4L495.5 1144.3L496.2 1134.9L496.9 1144.5L497.6 1136L498.3 1147.2L499 1136.3L499.7 1142.8L500.4 1132.7L501.1 1144.2L501.8 1135.8L502.5 1143L503.2 1132.9L503.9 1148.6L504.6 1132.2L505.3 1141.1L506 1135.2L506.7 1139.3L507.4 1129.8L508.1 1139.3L508.8 1128.9L509.5 1139.7L510.2 1132.4L510.9 1146L511.6 1131.7L512.3 1138.9L513 1133.8L513.7 1142.3L514.4 1127.5L515.1 1144L515.8 1128.7L516.5 1137.8L517.2 1132.7L517.9 1136.3L518.6 1128.4L519.3 1134.4L520 1128.2L520.7 1132.2L521.4 1124.2L522.1 1135.1L522.8 1116.1L523.5 1123.2L524.2 1120L524.9 1122.6L525.6 1115.6L526.3 1123.4L527 1110.3L527.7 1123.1L528.4 1110.6L529.1 1122.7L529.8 1117.3L530.5 1124L531.2 1121.5L531.9 1124.2L532.6 1122.1L533.3 1125.8L534 1126.4L534.7 1133.9L535.4 1127.3L536.1 1134.6L536.8 1123.9L537.5 1132.8L538.2 1127.2L538.9 1136.7L539.6 1124.9L540.3 1134.4L541 1125.7L541.7 1135.8L542.4 1128.2L543.1 1138.2L543.8 1129.4L544.5 1142.8L545.2 1133.1L545.9 1143.9L546.6 1138.1L547.3 1142.3L548 1132.8L548.7 1146.2L549.4 1141L550.1 1145.9L550.8 1143.9L551.5 1147L552.2 1134L552.9 1149.7L553.6 1136.1L554.3 1146.6L555 1136.9L555.7 1150.3L556.4 1149.4L557.1 1154.8L557.8 1146.9L558.5 1151.6L559.2 1139.9L559.9 1155.4L560.6 1144.3L561.3 1156.7L562 1153.7L562.7 1158.4L563.4 1153L564.1 1157.4L564.8 1153.4L565.5 1161.1L566.2 1151.8L566.9 1162.7L567.6 1149.8L568.3 1156.2L569 1152.4L569.7 1156.9L570.4 1155.6L571.1 1163L571.8 1154.7L572.5 1158.4L573.2 1151.4L573.9 1158.6L574.6 1153.4L575.3 1161.5L576 1153.8L576.7 1161.2L577.4 1147.4L578.1 1163L578.8 1155.3L579.5 1163.5L580.2 1155.5L580.9 1163.6L581.6 1153.9L582.3 1161.4L583 1155.7L583.7 1161L584.4 1155.7L585.1 1171.1L585.8 1152L586.5 1161.8L587.2 1151.1L587.9 1157.6L588.6 1154.1L589.3 1166.5L590 1151.7L590.7 1159.2L591.4 1151.4L592.1 1155.6L592.8 1154.4L593.5 1163.7L594.2 1147.7L594.9 1155L595.6 1157L596.3 1162.1L597 1154.2L597.7 1165.1L598.4 1145.6L599.1 1158.7L599.8 1153.9L600.5 1162.2L601.2 1150.9L601.9 1158.1L602.6 1152L603.3 1160.1L604 1155.1L604.7 1159.4L605.4 1155.1L606.1 1159.6L606.8 1152.1L607.5 1155.5L608.2 1149.9L608.9 1157.3L609.6 1152.4L610.3 1159.9L611 1151.1L611.7 1157.2L612.4 1154.1L613.1 1166.4L613.8 1151.4L614.5 1156.8L615.2 1150.3L615.9 1155.4L616.6 1146.4L617.3 1160.7L618 1148.2L618.7 1155.7L619.4 1149.8L620.1 1156.1L620.8 1150.6L621.5 1156.8L622.2 1149.4L622.9 1157.9L623.6 1145.7L624.3 1156.7L625 1148.7L625.7 1156.5L626.4 1146.4L627.1 1150.4L627.8 1147.1L628.5 1153.4L629.2 1146.3L629.9 1154L630.6 1147L631.3 1152.6L632 1148.2L632.7 1153.4L633.4 1146.6L634.1 1156.7L634.8 1140.2L635.5 1150.3L636.2 1142.7L636.9 1154.5L637.6 1140.8L638.3 1152.1L639 1141.3L639.7 1151.7L640.4 1145.7L641.1 1157.5L641.8 1148.4L642.5 1155L643.2 1144L643.9 1149.6L644.6 1146.6L645.3 1153.3L646 1148.9L646.7 1153.6L647.4 1149.1L648.1 1161.1L648.8 1145.2L649.5 1150.7L650.2 1149.3L650.9 1159.9L651.6 1147.1L652.3 1158.1L653 1138.6L653.7 1156.1L654.4 1142.8L655.1 1148.8L655.8 1146.3L656.5 1158.8L657.2 1142.8L657.9 1160.1L658.6 1141.9L659.3 1149.3L660 1144.7L660.7 1149.9L661.4 1136.3L662.1 1151.5L662.8 1142.9L663.5 1148.4L664.2 1142L664.9 1152.6L665.6 1141.4L666.3 1152.5L667 1142L667.7 1150.3L668.4 1142.2L669.1 1146L669.8 1143.9L670.5 1153.4L671.2 1141.9L671.9 1155.9L672.6 1134.7L673.3 1140.6L674 1130.5L674.7 1138.6L675.4 1122.3L676.1 1138.3L676.8 1124.9L677.5 1136.9L678.2 1127.2L678.9 1132.5L679.6 1125.2L680.3 1130.2L681 1130.4L681.7 1136.3L682.4 1126.6L683.1 1133.9L683.8 1121.3L684.5 1130.8L685.2 1125.2L685.9 1137.3L686.6 1131.3L687.3 1135.6L688 1127L688.7 1135.6L689.4 1130.3L690.1 1137.6L690.8 1132.6L691.5 1141.5L692.2 1130.1L692.9 1147.7L693.6 1136.2L694.3 1145.9L695 1139L695.7 1145.5L696.4 1135.8L697.1 1141.3L697.8 1134.9L698.5 1137.5L699.2 1133.6L699.9 1137.7L700.6 1129.2L701.3 1136.5L702 1132.4L702.7 1137L703.4 1129L704.1 1134.1L704.8 1120.4L705.5 1132.5L706.2 1123.4L706.9 1131.9L707.6 1120.7L708.3 1132.5L709 1117.6L709.7 1129.8L710.4 1120.5L711.1 1127.8L711.8 1119.7L712.5 1130.7L713.2 1117L713.9 1123.8L714.6 1111.1L715.3 1116.1L716 1109.1L716.7 1116.3L717.4 1102.4L718.1 1112.9L718.8 1102.7L719.5 1106.1L720.2 1100.6L720.9 1111.1L721.6 1103.7L722.3 1107.2L723 1107L723.7 1110.8L724.4 1101.8L725.1 1112.5L725.8 1104.8L726.5 1113.3L727.2 1101.4L727.9 1110.3L728.6 1097.4L729.3 1109.7L730 1105.4L730.7 1107.9L731.4 1102.8L732.1 1109.7L732.8 1106.3L733.5 1108.6L734.2 1103.9L734.9 1109.3L735.6 1103.6L736.3 1113.9L737 1099.2L737.7 1109.2L738.4 1109L739.1 1118L739.8 1102.7L740.5 1109.6L741.2 1112.8L741.9 1116.7L742.6 1109.7L743.3 1115.7L744 1106.4L744.7 1111.7L745.4 1102.4L746.1 1113.9L746.8 1109.2L747.5 1112L748.2 1103.7L748.9 1107.3L749.6 1105.1L750.3 1112.1L751 1106.3L751.7 1111.1L752.4 1095.2L753.1 1103.1L753.8 1099.8L754.5 1105.9L755.2 1099.5L755.9 1103L756.6 1093.3L757.3 1101.7L758 1093.7L758.7 1099.7L759.4 1093.8L760.1 1099.6L760.8 1099.4L761.5 1107.4L762.2 1100.5L762.9 1110.8L763.6 1100.3L764.3 1107.6L765 1101.6L765.7 1105.6L766.4 1097.6L767.1 1107.6L767.8 1098.5L768.5 1105.1L769.2 1103.1L769.9 1110.6L770.6 1110.8L771.3 1112.4L772 1111.9L772.7 1115.4L773.4 1112.3L774.1 1123.3L774.8 1114.5L775.5 1124L776.2 1113.5L776.9 1120L777.6 1115.9L778.3 1119.2L779 1111.2L779.7 1122.9L780.4 1116.7L781.1 1124.1L781.8 1118.4L782.5 1122.5L783.2 1113.7L783.9 1121.6L784.6 1115.2L785.3 1120.8L786 1112.3L786.7 1122.9L787.4 1115.7L788.1 1119.4L788.8 1117.8L789.5 1120.8L790.2 1110.2L790.9 1121.7L791.6 1108.6L792.3 1121.2L793 1112.9L793.7 1117.5L794.4 1111.5L795.1 1117.7L795.8 1114.2L796.5 1120L797.2 1111.9L797.9 1117.2L798.6 1113.8L799.3 1121.7L800 1113.7L800.7 1123.7L801.4 1117.7L802.1 1120L802.8 1112.2L803.5 1121.7L804.2 1117.8L804.9 1128L805.6 1119.4L806.3 1121.3L807 1116.5L807.7 1132.5L808.4 1124L809.1 1129.1L809.8 1122.7L810.5 1126.7L811.2 1115.2L811.9 1124L812.6 1114.4L813.3 1123.7L814 1110.9L814.7 1119.5L815.4 1117.1L816.1 1126.1L816.8 1120.3L817.5 1133.1L818.2 1123.8L818.9 1129.1L819.6 1127.2L820.3 1135.5L821 1133.9L821.7 1139.4L822.4 1135.5L823.1 1139.8L823.8 1137.1L824.5 1150L825.2 1136L825.9 1140.9L826.6 1137.4L827.3 1141.8L828 1135.4L828.7 1140.6L829.4 1137.9L830.1 1141.3L830.8 1130L831.5 1140.8L832.2 1131.7L832.9 1138.4L833.6 1129.1L834.3 1135.2L835 1131.6L835.7 1136.1L836.4 1124.4L837.1 1133.8L837.8 1121.8L838.5 1129.2L839.2 1126.4L839.9 1131.6L840.6 1131.5L841.3 1133.7L842 1132.9L842.7 1135.4L843.4 1132.6L844.1 1137.8L844.8 1140.3L845.5 1147.3L846.2 1132.1L846.9 1140.7L847.6 1129.8L848.3 1134.4L849 1134.4L849.7 1141.4L850.4 1138.5L851.1 1141.3L851.8 1135L852.5 1138.6L853.2 1130.5L853.9 1138.1L854.6 1131.9L855.3 1151.2L856 1129.1L856.7 1144.8L857.4 1134.4L858.1 1144.3L858.8 1133.7L859.5 1139.2L860.2 1139.1L860.9 1144.6L861.6 1139.2L862.3 1141.7L863 1137.1L863.7 1143.8L864.4 1136.7L865.1 1145.1L865.8 1142.2L866.5 1149.5L867.2 1141.3L867.9 1148.3L868.6 1142.2L869.3 1149L870 1137.5L870.7 1150.8L871.4 1142.1L872.1 1153.9L872.8 1141.5L873.5 1153.5L874.2 1141.9L874.9 1152.1L875.6 1139.7L876.3 1154.5L877 1146.2L877.7 1149.8L878.4 1136.4L879.1 1151.9L879.8 1142.8L880.5 1144.6L881.2 1138.1L881.9 1143.9L882.6 1134.2L883.3 1141.6L884 1132.3L884.7 1143.9L885.4 1132.2L886.1 1139.5L886.8 1131.1L887.5 1140.5L888.2 1126.3L888.9 1138.4L889.6 1128.7L890.3 1143.1L891 1144.7L891.7 1147.4L892.4 1139.9L893.1 1147.3L893.8 1145L894.5 1150.1L895.2 1141.8L895.9 1149.1L896.6 1142.1L897.3 1149.4L898 1148.5L898.7 1155.6L899.4 1150.2L900.1 1155.4L900.8 1150.2L901.5 1162.7L902.2 1150.4L902.9 1157.7L903.6 1149.2L904.3 1157L905 1154.8L905.7 1161.3L906.4 1147.5L907.1 1152.3L907.8 1150.7L908.5 1158.9L909.2 1141.7L909.9 1149.4L910.6 1142.5L911.3 1148.8L912 1143.9L912.7 1146.7L913.4 1139.6L914.1 1143.1L914.8 1132.9L915.5 1144.9L916.2 1126.2L916.9 1138.6L917.6 1130.6L918.3 1140.4L919 1129.7L919.7 1135.4L920.4 1122.2L921.1 1131.6L921.8 1125.1L922.5 1134.7L923.2 1123.7L923.9 1135.6L924.6 1125.2L925.3 1132.9L926 1128.9L926.7 1136.1L927.4 1128.4L928.1 1139L928.8 1130.5L929.5 1134.7L930.2 1126.6L930.9 1137.5L931.6 1124.4L932.3 1129.6L933 1118.6L933.7 1126.4L934.4 1119.7L935.1 1124.2L935.8 1121.7L936.5 1128.1L937.2 1126.3L937.9 1128.6L938.6 1128.3L939.3 1131.9L940 1125.5L940.7 1134.9L941.4 1132.9L942.1 1141.2L942.8 1132.9L943.5 1142.7L944.2 1135.3L944.9 1147.1L945.6 1142.6L946.3 1152.5L947 1139.8L947.7 1152.6L948.4 1145.1L949.1 1159.3L949.8 1147.9L950.5 1159.8L951.2 1155.2L951.9 1162.9L952.6 1151.2L953.3 1163.4L954 1149.8L954.7 1155.4L955.4 1154.4L956.1 1159.5L956.8 1148.6L957.5 1152.4L958.2 1145.3L958.9 1153.2L959.6 1141.7L960.3 1151.1L961 1133.5L961.7 1147.9L962.4 1137.2L963.1 1145.3L963.8 1135.8L964.5 1140.5L965.2 1129.6L965.9 1137.7L966.6 1130.2L967.3 1137.5L968 1136L968.7 1141.9L969.4 1128.6L970.1 1135.3L970.8 1131.5L971.5 1134.5L972.2 1127.6L972.9 1136.8L973.6 1127.3L974.3 1132L975 1126.2L975.7 1132.1L976.4 1125.7L977.1 1130.1L977.8 1121.4L978.5 1129.4L979.2 1121.8L979.9 1133.3L980.6 1121.5L981.3 1129.2L982 1119.6L982.7 1130.4L983.4 1123.6L984.1 1129.8L984.8 1123.2L985.5 1129.1L986.2 1123.1L986.9 1129.1L987.6 1119.5L988.3 1127.5L989 1120.7L989.7 1130.3L990.4 1119.1L991.1 1128.2L991.8 1121.6L992.5 1125.1L993.2 1120.1L993.9 1129.1L994.6 1122L995.3 1128.8L996 1125.3L996.7 1134.7L997.4 1119.5L998.1 1124.1L998.8 1122.4L999.5 1128.3L1000.2 1109.5L1000.9 1124.1L1001.6 1122.1L1002.3 1128.7L1003 1115.9L1003.7 1128.2L1004.4 1128L1005.1 1129.1L1005.8 1126.1L1006.5 1130.2L1007.2 1125.6L1007.9 1133.3L1008.6 1128.6L1009.3 1138.3L1010 1127.7L1010.7 1135L1011.4 1131.5L1012.1 1139.2L1012.8 1123.1L1013.5 1137.3L1014.2 1130.7L1014.9 1142.6L1015.6 1131.4L1016.3 1134.9L1017 1127.6L1017.7 1148.2L1018.4 1131.7L1019.1 1141.2L1019.8 1122.5L1020.5 1134.2L1021.2 1123.4L1021.9 1133.4L1022.6 1131.1L1023.3 1134L1024 1128.2L1024.7 1137L1025.4 1130.3L1026.1 1135.3L1026.8 1130.2L1027.5 1138.9L1028.2 1128.3L1028.9 1139.3L1029.6 1129.9L1030.3 1135.2L1031 1127.3L1031.7 1139.9L1032.4 1130.3L1033.1 1136.2L1033.8 1124.1L1034.5 1133.5L1035.2 1124.6L1035.9 1136.9L1036.6 1127.1L1037.3 1137.8L1038 1126.3L1038.7 1135.8L1039.4 1128.6L1040.1 1132.3L1040.8 1129.5L1041.5 1133.8L1042.2 1126.7L1042.9 1137.1L1043.6 1130.6L1044.3 1135.6L1045 1132.7L1045.7 1142.2L1046.4 1136.9L1047.1 1139.7L1047.8 1131.6L1048.5 1139L1049.2 1141.1L1049.9 1146.6L1050.6 1142.6L1051.3 1148.1L1052 1141.5L1052.7 1150.5L1053.4 1143.6L1054.1 1151.1L1054.8 1143.6L1055.5 1154.3L1056.2 1150L1056.9 1156.8L1057.6 1146.1L1058.3 1157.9L1059 1151.9L1059.7 1164.4L1060.4 1156.3L1061.1 1164.3L1061.8 1157.5L1062.5 1164.2L1063.2 1153.4L1063.9 1156.7L1064.6 1155.8L1065.3 1165.7L1066 1152.5L1066.7 1164L1067.4 1155L1068.1 1164.3L1068.8 1152.9L1069.5 1162.2L1070.2 1156.9L1070.9 1165.5L1071.6 1145.1L1072.3 1160.4L1073 1150.5L1073.7 1155.7L1074.4 1154.4L1075.1 1166L1075.8 1154L1076.5 1166.7L1077.2 1155L1077.9 1168.4L1078.6 1155L1079.3 1163.4L1080 1149.4L1080.7 1162.9L1081.4 1151.8L1082.1 1158L1082.8 1153.1L1083.5 1165.6L1084.2 1156.2L1084.9 1158.1L1085.6 1153.9L1086.3 1164.5L1087 1152.4L1087.7 1154.8L1088.4 1152.6L1089.1 1161.7L1089.8 1151.8L1090.5 1159.2L1091.2 1142.8L1091.9 1164.8L1092.6 1153.8L1093.3 1165.5L1094 1145.1L1094.7 1157.4L1095.4 1154.3L1096.1 1160L1096.8 1146.7L1097.5 1159.6L1098.2 1151.7L1098.9 1163.7L1099.6 1154.7L1100.3 1163.4L1101 1150.5L1101.7 1162.6L1102.4 1153.5L1103.1 1164.1L1103.8 1156.4L1104.5 1164.9L1105.2 1160.1L1105.9 1172.4L1106.6 1166.2L1107.3 1172.5L1108 1165.2L1108.7 1172.6L1109.4 1163.3L1110.1 1180.3L1110.8 1165.2L1111.5 1174.3L1112.2 1163.4L1112.9 1173.4L1113.6 1167.1L1114.3 1175.3L1115 1168.8L1115.7 1174.9L1116.4 1160.2L1117.1 1176.3L1117.8 1163.2L1118.5 1174.7L1119.2 1168.5L1119.9 1179L1120.6 1166.9L1121.3 1171.2L1122 1163L1122.7 1168.5L1123.4 1163.5L1124.1 1179.4L1124.8 1163.2L1125.5 1172.1L1126.2 1162L1126.9 1169.7L1127.6 1171L1128.3 1173.5L1129 1164.2L1129.7 1169.6L1130.4 1158.2L1131.1 1173.3L1131.8 1160.6L1132.5 1168L1133.2 1162.9L1133.9 1168.7L1134.6 1161.2L1135.3 1168.1L1136 1159.5L1136.7 1166.9L1137.4 1159.6L1138.1 1167.4L1138.8 1158.7L1139.5 1170.3L1140.2 1154.4L1140.9 1170.8L1141.6 1156.6L1142.3 1163.2L1143 1155.2L1143.7 1164.6L1144.4 1157.8L1145.1 1163.9L1145.8 1155L1146.5 1162.6L1147.2 1151.9L1147.9 1160.7L1148.6 1155.1L1149.3 1159.7L1150 1154.8L1150.7 1160L1151.4 1149L1152.1 1158.8L1152.8 1145.2L1153.5 1157.9L1154.2 1148.6L1154.9 1154.6L1155.6 1145.2L1156.3 1147.6L1157 1145.3L1157.7 1154.8L1158.4 1144.9L1159.1 1149.6L1159.8 1140.7L1160.5 1149.6L1161.2 1144.4L1161.9 1152.8L1162.6 1143.4L1163.3 1151.9L1164 1145.3L1164.7 1147.9L1165.4 1143.6L1166.1 1151.9L1166.8 1146.6L1167.5 1152.8L1168.2 1143.1L1168.9 1151.1L1169.6 1139.4L1170.3 1149.3L1171 1139.8L1171.7 1147.7L1172.4 1145L1173.1 1150.3L1173.8 1135L1174.5 1150.9L1175.2 1142.7L1175.9 1149.2L1176.6 1140.8L1177.3 1150.1L1178 1139.9L1178.7 1152.2L1179.4 1139.2L1180.1 1148.8L1180.8 1138.1L1181.5 1149.5L1182.2 1144.2L1182.9 1146L1183.6 1137.3L1184.3 1145.6L1185 1138.7L1185.7 1151.6L1186.4 1138.2L1187.1 1149.9L1187.8 1139L1188.5 1143.8L1189.2 1138.7L1189.9 1148.5L1190.6 1138.5L1191.3 1144.4L1192 1136L1192.7 1151.4L1193.4 1141.2L1194.1 1149.4L1194.8 1142.5L1195.5 1150.3L1196.2 1140.8L1196.9 1150.2L1197.6 1142L1198.3 1150L1199 1141L1199.7 1162.8L1200.4 1147.9L1201.1 1156L1201.8 1146.3L1202.5 1150.7L1203.2 1146.8L1203.9 1152L1204.6 1145.1L1205.3 1149.7L1206 1145.2L1206.7 1151.6L1207.4 1140.8L1208.1 1150L1208.8 1135.7L1209.5 1151.8L1210.2 1139.7L1210.9 1148.4L1211.6 1143L1212.3 1147.3L1213 1142.1L1213.7 1147.7L1214.4 1137.1L1215.1 1145.2L1215.8 1132.3L1216.5 1143.4L1217.2 1138.3L1217.9 1142.3L1218.6 1136.7L1219.3 1143.6L1220 1133.5L1220.7 1141.2L1221.4 1134.5L1222.1 1138L1222.8 1132.8L1223.5 1139.3L1224.2 1135.5L1224.9 1145.7L1225.6 1140.2L1226.3 1149.4L1227 1141.5L1227.7 1148.7L1228.4 1141.3L1229.1 1149.5L1229.8 1141L1230.5 1152.1L1231.2 1139L1231.9 1148.2L1232.6 1143.2L1233.3 1149.3L1234 1144.2L1234.7 1149.7L1235.4 1139.4L1236.1 1146.7L1236.8 1140.1L1237.5 1152.3L1238.2 1141.7L1238.9 1152.3L1239.6 1147.5L1240.3 1153.2L1241 1144.1L1241.7 1154.8L1242.4 1143.3L1243.1 1153L1243.8 1144.2L1244.5 1157.1L1245.2 1147.5L1245.9 1151.1L1246.6 1142.4L1247.3 1156.3L1248 1153.8L1248.7 1166.2L1249.4 1147.2L1250.1 1157.8L1250.8 1146.4L1251.5 1153.9L1252.2 1144L1252.9 1147.2L1253.6 1148.5L1254.3 1163.1L1255 1147L1255.7 1154L1256.4 1144.8L1257.1 1150.9L1257.8 1142.4L1258.5 1149L1259.2 1144.3L1259.9 1149.3L1260.6 1135.2L1261.3 1153.5L1262 1145.7L1262.7 1150.6L1263.4 1141.6L1264.1 1147.3L1264.8 1140.7L1265.5 1151.2L1266.2 1142.4L1266.9 1148.7L1267.6 1146.2L1268.3 1151.8L1269 1147.5L1269.7 1149.4L1270.4 1138.5L1271.1 1149.5L1271.8 1138.8L1272.5 1149.9L1273.2 1140.4L1273.9 1145.1L1274.6 1137L1275.3 1146.7L1276 1134.4L1276.7 1139.4L1277.4 1128.9L1278.1 1135.3L1278.8 1132.8L1279.5 1136.5L1280.2 1129.3L1280.9 1138.3L1281.6 1133.9L1282.3 1138L1283 1124.6L1283.7 1136.1L1284.4 1132.7L1285.1 1137.8L1285.8 1128.4L1286.5 1140.7L1287.2 1132.6L1287.9 1140.3L1288.6 1128.7L1289.3 1140.1L1290 1133.1L1290.7 1136.6L1291.4 1134.1L1292.1 1141.6L1292.8 1129.9L1293.5 1139.1L1294.2 1131.5L1294.9 1137.8L1295.6 1127.2L1296.3 1139.3L1297 1128.4L1297.7 1139L1298.4 1129.3L1299.1 1133.2L1299.8 1131L1300.5 1136.1L1301.2 1128L1301.9 1135.6L1302.6 1124.3L1303.3 1133.2L1304 1132.6L1304.7 1135.9L1305.4 1121.7L1306.1 1130.6L1306.8 1127.4L1307.5 1139.2L1308.2 1127.8L1308.9 1137.5L1309.6 1133.7L1310.3 1137.7L1311 1134.1L1311.7 1137.6L1312.4 1130.6L1313.1 1140.4L1313.8 1127.9L1314.5 1138.3L1315.2 1136L1315.9 1140.1L1316.6 1128.9L1317.3 1139.2L1318 1133.9L1318.7 1137.8L1319.4 1132.3L1320.1 1136.4L1320.8 1134.1L1321.5 1139.2L1322.2 1130L1322.9 1143.8L1323.6 1135.2L1324.3 1141.5L1325 1138.3L1325.7 1144.5L1326.4 1138.2L1327.1 1145.2L1327.8 1135.7L1328.5 1147.2L1329.2 1137.2L1329.9 1142.7L1330.6 1132.5L1331.3 1140.4L1332 1136.2L1332.7 1139.1L1333.4 1132.9L1334.1 1141.8L1334.8 1133.4L1335.5 1142.2L1336.2 1131.9L1336.9 1145L1337.6 1132.8L1338.3 1135.2L1339 1124.9L1339.7 1140.8L1340.4 1129.7L1341.1 1140.9L1341.8 1133.5L1342.5 1141L1343.2 1126.2L1343.9 1135.8L1344.6 1133.9L1345.3 1144.3L1346 1131.3L1346.7 1139.6L1347.4 1131.2L1348.1 1139.7L1348.8 1134.2L1349.5 1139.8L1350.2 1131.4L1350.9 1144.5L1351.6 1134.4L1352.3 1143.2L1353 1131.9L1353.7 1142.6L1354.4 1132.3L1355.1 1145.4L1355.8 1136.3L1356.5 1146.4L1357.2 1134.5L1357.9 1142.6L1358.6 1136.6L1359.3 1142.7L1360 1136.5L1360.7 1143.7L1361.4 1136L1362.1 1141.9L1362.8 1133.9L1363.5 1145.3L1364.2 1134L1364.9 1144.7L1365.6 1133.6L1366.3 1136.9L1367 1132.5L1367.7 1141L1368.4 1130.1L1369.1 1146.7L1369.8 1132.9L1370.5 1137.6L1371.2 1133.7L1371.9 1139.2L1372.6 1131.3L1373.3 1134.7L1374 1127L1374.7 1137.7L1375.4 1132.3L1376.1 1140.6L1376.8 1132L1377.5 1139.4L1378.2 1133.3L1378.9 1139.1L1379.6 1136.6L1380.3 1141.2L1381 1128L1381.7 1138.6L1382.4 1128.8L1383.1 1140.9L1383.8 1131.2L1384.5 1137L1385.2 1130.1L1385.9 1135.9L1386.6 1131L1387.3 1137.8L1388 1129.9L1388.7 1143.5L1389.4 1131.2L1390.1 1135.1L1390.8 1132.2L1391.5 1138.8L1392.2 1129.4L1392.9 1138.5L1393.6 1133.6L1394.3 1135.9L1395 1133.3L1395.7 1141.5L1396.4 1132.8L1397.1 1138.6L1397.8 1126.6L1398.5 1137.7L1399.2 1128.3L1399.9 1137.9L1400.6 1132.1L1401.3 1138.3L1402 1128.6L1402.7 1141.3L1403.4 1132L1404.1 1141.7L1404.8 1126.5L1405.5 1135.1L1406.2 1128L1406.9 1132.9L1407.6 1131.3L1408.3 1142.4L1409 1128.2L1409.7 1134.8L1410.4 1129.7L1411.1 1139.3L1411.8 1131.9L1412.5 1134.7L1413.2 1127.5L1413.9 1135.1L1414.6 1123.7L1415.3 1131.8L1416 1130.9L1416.7 1134.8L1417.4 1128.4L1418.1 1135L1418.8 1130.6L1419.5 1136.1L1420.2 1126.6L1420.9 1140.2L1421.6 1127.4L1422.3 1135.7L1423 1131.5L1423.7 1136.7L1424.4 1126.6L1425.1 1137.6L1425.8 1128.4L1426.5 1138.8L1427.2 1128.3L1427.9 1134.9L1428.6 1128.7L1429.3 1134.5L1430 1120.7L1430.7 1131.5L1431.4 1124.9L1432.1 1130.2L1432.8 1120.6L1433.5 1129.9L1434.2 1120.4L1434.9 1125.1L1435.6 1120.1L1436.3 1125.5L1437 1120.8L1437.7 1123.4L1438.4 1118.5L1439.1 1128.2L1439.8 1112.9L1440.5 1122.5L1441.2 1113.9L1441.9 1119.5L1442.6 1112.4L1443.3 1123.6L1444 1113.6L1444.7 1116.6L1445.4 1114.5L1446.1 1131L1446.8 1114.9L1447.5 1121.9L1448.2 1115.5L1448.9 1123.4L1449.6 1116.9L1450.3 1127.5L1451 1113.1L1451.7 1124.7L1452.4 1123.3L1453.1 1125.9L1453.8 1117.9L1454.5 1125.1L1455.2 1116.2L1455.9 1127L1456.6 1122.1L1457.3 1130.3L1458 1128.8L1458.7 1137.2L1459.4 1122.3L1460.1 1127.6L1460.8 1119.8L1461.5 1127.8L1462.2 1122.8L1462.9 1129.4L1463.6 1125.3L1464.3 1129.1L1465 1127.7L1465.7 1135.4L1466.4 1127.7L1467.1 1140.1L1467.8 1126.7L1468.5 1131.2L1469.2 1122.9L1469.9 1133.3L1470.6 1123.9L1471.3 1134.8L1472 1121.7L1472.7 1129.4L1473.4 1120.3L1474.1 1124.6L1474.8 1120.3L1475.5 1129.1L1476.2 1120.8L1476.9 1128L1477.6 1118.9L1478.3 1128.2L1479 1121.7L1479.7 1128.7L1480.4 1122L1481.1 1123.4L1481.8 1122.3L1482.5 1124.7L1483.2 1121.7L1483.9 1129.5L1484.6 1120.1L1485.3 1125.6L1486 1119.2L1486.7 1132L1487.4 1113L1488.1 1127.3L1488.8 1116.1L1489.5 1122.4L1490.2 1121L1490.9 1124.7L1491.6 1109L1492.3 1124.5L1493 1114.4L1493.7 1118.2L1494.4 1110.3L1495.1 1119.9L1495.8 1111.5L1496.5 1115.8L1497.2 1107.6L1497.9 1116.4L1498.6 1107.5L1499.3 1115.6L1500 1103.1L1500.7 1114.7L1501.4 1108.9L1502.1 1112.9L1502.8 1105.7L1503.5 1117.9L1504.2 1108.9L1504.9 1114.1L1505.6 1113.9L1506.3 1118.8L1507 1114.4L1507.7 1120.2L1508.4 1115.8L1509.1 1124.3L1509.8 1120.2L1510.5 1123.8L1511.2 1118.3L1511.9 1124.4L1512.6 1122.4L1513.3 1126.7L1514 1122.5L1514.7 1130.7L1515.4 1119.4L1516.1 1129L1516.8 1117.9L1517.5 1131.8L1518.2 1122.2L1518.9 1129.6L1519.6 1117.6L1520.3 1123.4L1521 1119.8L1521.7 1120.9L1522.4 1116.9L1523.1 1128L1523.8 1121.3L1524.5 1128.7L1525.2 1121.1L1525.9 1124.5L1526.6 1119.6L1527.3 1127.8L1528 1121.1L1528.7 1128.9L1529.4 1126.3L1530.1 1131.2L1530.8 1123.6L1531.5 1126.2L1532.2 1125.4L1532.9 1130.2L1533.6 1123.1L1534.3 1127.8L1535 1123.2L1535.7 1129.3L1536.4 1122.7L1537.1 1130.9L1537.8 1121.1L1538.5 1126.3L1539.2 1123.2L1539.9 1131.1L1540.6 1114.5L1541.3 1129.6L1542 1113L1542.7 1130.8L1543.4 1126.3L1544.1 1133.6L1544.8 1124.3L1545.5 1133.7L1546.2 1123.1L1546.9 1129.7L1547.6 1122L1548.3 1137L1549 1124.3L1549.7 1132L1550.4 1127.4L1551.1 1133.6L1551.8 1124.4L1552.5 1132.6L1553.2 1131.8L1553.9 1137L1554.6 1126.2L1555.3 1139.5L1556 1129.9L1556.7 1141.3L1557.4 1134.8L1558.1 1142.7L1558.8 1134.2L1559.5 1140.4L1560.2 1135.6L1560.9 1138.1L1561.6 1132.5L1562.3 1143.4L1563 1131L1563.7 1145L1564.4 1135.4L1565.1 1139.6L1565.8 1127.8L1566.5 1141.4L1567.2 1130.7L1567.9 1140.8L1568.6 1132.4L1569.3 1143.3L1570 1132L1570.7 1138.5L1571.4 1132.9L1572.1 1141.4L1572.8 1130.5L1573.5 1134.6L1574.2 1127.3L1574.9 1139L1575.6 1124.9L1576.3 1135.1L1577 1124.3L1577.7 1129.7L1578.4 1121.7L1579.1 1132L1579.8 1124L1580.5 1126.6L1581.2 1116.9L1581.9 1119.8L1582.6 1115.3L1583.3 1125.8L1584 1118.5L1584.7 1121.4L1585.4 1116.3L1586.1 1122.4L1586.8 1114.9L1587.5 1120.2L1588.2 1107.7L1588.9 1114.3L1589.6 1107.1L1590.3 1118.3L1591 1108.1L1591.7 1112.5L1592.4 1103.9L1593.1 1111L1593.8 1107.9L1594.5 1116.4L1595.2 1105.9L1595.9 1112.6L1596.6 1107.9L1597.3 1112.8L1598 1104.8L1598.7 1112.5L1599.4 1108.6L1600.1 1116L1600.8 1109.8L1601.5 1121.2L1602.2 1108.8L1602.9 1117.3L1603.6 1112.6L1604.3 1117.2L1605 1111.2L1605.7 1115.7L1606.4 1113.3L1607.1 1123L1607.8 1116.6L1608.5 1123.6L1609.2 1114.9L1609.9 1121.9L1610.6 1113L1611.3 1121.5L1612 1110.2L1612.7 1120.2L1613.4 1105.7L1614.1 1115.6L1614.8 1113.1L1615.5 1122.9L1616.2 1109.6L1616.9 1113.1L1617.6 1107.6L1618.3 1113.5L1619 1106.4L1619.7 1109.8L1620.4 1103.6L1621.1 1110L1621.8 1100.7L1622.5 1108.1L1623.2 1101.5L1623.9 1108.7L1624.6 1100.7L1625.3 1105.2L1626 1103.9L1626.7 1106.2L1627.4 1099.6L1628.1 1108.2L1628.8 1100.9L1629.5 1110L1630.2 1104.4L1630.9 1114L1631.6 1108.6L1632.3 1112.8L1633 1112.6L1633.7 1123.8L1634.4 1111.9L1635.1 1127.1L1635.8 1117.1L1636.5 1120.7L1637.2 1115.6L1637.9 1124.7L1638.6 1119.7L1639.3 1125.3L1640 1121.4L1640.7 1127.8L1641.4 1118.3L1642.1 1121.7L1642.8 1123.1L1643.5 1130.7L1644.2 1116.6L1644.9 1126.3L1645.6 1120.2L1646.3 1130.7L1647 1116.3L1647.7 1122.2L1648.4 1116.7L1649.1 1125.5L1649.8 1112.7L1650.5 1121.7L1651.2 1115L1651.9 1121.6L1652.6 1114.8L1653.3 1120.5L1654 1111.7L1654.7 1114.6L1655.4 1109.2L1656.1 1112.9L1656.8 1104.4L1657.5 1110.4L1658.2 1110.1L1658.9 1117.3L1659.6 1102L1660.3 1113.2L1661 1106.6L1661.7 1110.8L1662.4 1104.7L1663.1 1114.9L1663.8 1110.4L1664.5 1114.3L1665.2 1110.6L1665.9 1116.9L1666.6 1111L1667.3 1116.6L1668 1112.6L1668.7 1119.1L1669.4 1112.1L1670.1 1120.9L1670.8 1117.1L1671.5 1124L1672.2 1119.9L1672.9 1127.2L1673.6 1119.7L1674.3 1130.1L1675 1119.2L1675.7 1124.3L1676.4 1118.6L1677.1 1127.6L1677.8 1117.1L1678.5 1124.6L1679.2 1111.4L1679.9 1122.7L1680.6 1109.9L1681.3 1126.4L1682 1115.7L1682.7 1125.7L1683.4 1110.4L1684.1 1121.2L1684.8 1104.6L1685.5 1110.6L1686.2 1103.5L1686.9 1108.3L1687.6 1103.4L1688.3 1108.3L1689 1099.9L1689.7 1104.4L1690.4 1095.4L1691.1 1101.9L1691.8 1094L1692.5 1095.5L1693.2 1086.1L1693.9 1097.3L1694.6 1087.7L1695.3 1096.3L1696 1084.1L1696.7 1092.7L1697.4 1092.4L1698.1 1092.8L1698.8 1093.4L1699.5 1098.8L1700.2 1093.7L1700.9 1098.3L1701.6 1097.8L1702.3 1100.1L1703 1090.7L1703.7 1097.9L1704.4 1084.4L1705.1 1094L1705.8 1087.1L1706.5 1096.5L1707.2 1083.1L1707.9 1090.9L1708.6 1083.2L1709.3 1093.8L1710 1086.8L1710.7 1088.1L1711.4 1085.1L1712.1 1094.2L1712.8 1081.5L1713.5 1088.3L1714.2 1085.4L1714.9 1088.9L1715.6 1080.6L1716.3 1088.7L1717 1082.7L1717.7 1087.2L1718.4 1076.2L1719.1 1085.7L1719.8 1072L1720.5 1079.4L1721.2 1070.8L1721.9 1076.5L1722.6 1067.3L1723.3 1071.7L1724 1065.7L1724.7 1069.7L1725.4 1060.9L1726.1 1067.4L1726.8 1053.8L1727.5 1056.4L1728.2 1045.9L1728.9 1048.5L1729.6 1041L1730.3 1044.7L1731 1031.3L1731.7 1036.7L1732.4 1027.5L1733.1 1029.5L1733.8 1018.1L1734.5 1021.4L1735.2 1012.3L1735.9 1020.4L1736.6 1005.2L1737.3 1006.2L1738 994.5L1738.7 1000.4L1739.4 989.7L1740.1 991.7L1739.9 988.6L1740.1 990.6L1740.2 987.2L1740.3 989.2L1740.4 985.1L1740.6 987.3L1740.7 983.7L1740.8 985.9L1740.9 982.3L1741.1 984.5L1741.2 980.9L1741.3 983.1L1741.4 978.9L1741.6 981.1L1741.7 977L1741.8 979.1L1741.9 973.5L1742.1 976.9L1742.2 971.5L1742.3 974.9L1742.4 969.6L1742.6 972.9L1742.7 967.6L1742.8 970.9L1742.9 965.7L1743.1 968.9L1743.2 965.3L1743.3 968.8L1743.4 963.4L1743.6 966.8L1743.7 961.4L1743.8 964.8L1743.9 959.4L1744.1 962.8L1744.2 957.4L1744.3 960.8L1744.4 955.3L1744.6 958.7L1744.7 949.6L1744.8 954.1L1744.9 947.3L1745.1 951.8L1745.2 945.1L1745.3 949.5L1745.4 942.9L1745.6 947.3L1745.7 940.6L1745.8 945L1745.9 941.5L1746.1 944.9L1746.2 939.2L1746.3 942.6L1746.4 936.9L1746.6 940.3L1746.7 934.7L1746.8 938L1746.9 932.4L1747.1 935.7L1747.2 930.1L1747.3 933.4L1747.4 928.7L1747.6 931.7L1747.7 926.4L1747.8 929.4L1747.9 924.1L1748.1 927.1L1748.2 922.1L1748.3 925.1L1748.4 920.2L1748.6 923.1L1748.7 918.3L1748.8 921.2L1748.9 915L1749.1 919.1L1749.2 913.1L1749.3 917.2L1749.4 911.2L1749.6 915.3L1749.7 909.4L1749.8 913.4L1749.9 907.5L1750.1 911.4L1750.2 905.8L1750.3 909.8L1750.4 904L1750.6 907.9L1750.7 902.1L1750.8 906L1750.9 900.2L1751.1 904.1L1751.2 898.3L1751.3 902.2L1751.4 896.4L1751.6 900.3L1751.7 895.7L1751.8 898.7L1751.9 893.4L1752.1 896.4L1752.2 890.6L1752.3 893.6L1752.4 887.8L1752.6 890.7L1752.7 885L1752.8 887.9L1752.9 882.2L1753.1 885.1L1753.2 877.6L1753.3 879.6L1753.4 874.8L1753.6 876.8L1753.7 872L1753.8 874L1753.9 869.2L1754.1 871.2L1754.2 866.5L1754.3 868.4L1754.4 863.7L1754.6 867.3L1754.7 860.9L1754.8 864.5L1754.9 858.1L1755.1 861.7L1755.2 855.3L1755.3 858.8L1755.4 852.3L1755.6 855.8L1755.7 849.2L1755.8 852.7L1755.9 848.3L1756.1 849.6L1756.2 845.2L1756.3 846.5L1756.4 842.2L1756.6 843.4L1756.7 839.1L1756.8 840.3L1756.9 836L1757.1 837.2L1757.2 832L1757.3 833.9L1757.4 828.9L1757.6 830.8L1757.7 825.8L1757.8 827.7L1757.9 822.8L1758.1 824.6L1758.2 819.7L1758.3 821.5L1758.4 816.3L1758.6 818L1758.7 812.2L1758.8 814.2L1758.9 808.7L1759.1 810.6L1759.2 805.1L1759.3 807L1759.4 801.6L1759.6 803.4L1759.7 798L1759.8 799.8L1759.9 794.6L1760.1 796.2L1760.2 791L1760.3 792.6L1760.4 787.7L1760.6 789.2L1760.7 784.5L1760.8 786.1L1760.9 781.4L1761.1 783L1761.2 778.3L1761.3 779.8L1761.4 774.5L1761.6 776.3L1761.7 771.4L1761.8 773.2L1761.9 768.2L1762.1 770.1L1762.2 765.1L1762.3 767L1762.4 762L1762.6 763.8L1762.7 758.9L1762.8 760.7L1762.9 756.1L1763.1 757.9L1763.2 753.1L1763.3 754.9L1763.4 750.1L1763.6 751.9L1763.7 747.1L1763.8 748.8L1763.9 744L1764.1 745.8L1764.2 740.9L1764.3 742.8L1764.4 737.9L1764.6 739.8L1764.7 734.9L1764.8 736.8L1764.9 731.9L1765.1 733.7L1765.2 728.9L1765.3 730.7L1765.4 725.9L1765.6 727.7L1765.7 723.5L1765.8 724.9L1765.9 720.5L1766.1 721.8L1766.2 716.9L1766.3 718.3L1766.4 713.4L1766.6 714.8L1766.7 709.9L1766.8 711.2L1766.9 706.4L1767.1 707.7L1767.2 703.6L1767.3 706L1767.4 700.1L1767.6 702.4L1767.7 696.5L1767.8 698.9L1767.9 693L1768.1 695.3L1768.2 689.5L1768.3 691.8L1768.4 685.3L1768.6 686.5L1768.7 681.8L1768.8 683L1768.9 678.3L1769.1 679.4L1769.2 675.3L1769.3 676.5L1769.4 672.8L1769.6 674L1769.7 670.3L1769.8 671.5L1769.9 667.5L1770.1 668.5L1770.2 665L1770.3 665.9L1770.4 662.5L1770.6 663.4L1770.7 660L1770.8 660.9L1770.9 657.5L1771.1 658.4L1771.2 655.7L1771.3 656.7L1771.4 653.2L1771.6 654.1L1771.7 650.7L1771.8 651.6L1771.9 648.2L1772.1 649.1L1772.2 645.6L1772.3 646.5L1772.4 642.9L1772.6 643.8L1772.7 640L1772.8 641.5L1772.9 636.1L1773.1 637.6L1773.2 631.8L1773.3 633.3L1773.4 627.5L1773.6 629L1773.7 623.3L1773.8 624.7L1773.9 619.1L1774.1 619.9L1774.2 614.6L1774.3 615.4L1774.4 609.6L1774.6 610.4L1774.7 604.6L1774.8 605.4L1774.9 599.7L1775.1 600.4L1775.2 594.7L1775.3 595.4L1775.4 589.1L1775.6 590.4L1775.7 584.8L1775.8 586.1L1775.9 581L1776.1 582.2L1776.2 577.1L1776.3 578.3L1776.4 573.2L1776.6 574.4L1776.7 569.1L1776.8 570.3L1776.9 564.7L1777.1 565.8L1777.2 560.4L1777.3 561.4L1777.4 556L1777.6 557L1777.7 551.7L1777.8 552.7L1777.9 547.3L1778.1 548.3L1778.2 543.7L1778.3 544.4L1778.4 539.3L1778.6 540.1L1778.7 535L1778.8 535.7L1778.9 530.8L1779.1 531.5L1779.2 526.7L1779.3 527.4L1779.4 522.5L1779.6 523.2L1779.7 518.2L1779.8 518.8L1779.9 514.1L1780.1 514.6L1780.2 509.9L1780.3 510.5L1780.4 505.8L1780.6 506.3L1780.7 501.6L1780.8 502.2L1780.9 497.5L1781.1 498L1781.2 493.5L1781.3 494L1781.4 489.3L1781.6 489.8L1781.7 485.8L1781.8 486.3L1781.9 482.3L1782.1 482.8L1782.2 478.8L1782.3 479.3L1782.4 475.5L1782.6 476.1L1782.7 472L1782.8 472.6L1782.9 468.5L1783.1 469.1L1783.2 465L1783.3 465.6L1783.4 461.5L1783.6 462.1L1783.7 457.8L1783.8 458.4L1783.9 453.7L1784.1 454L1784.2 450L1784.3 450.2L1784.4 446.2L1784.6 446.5L1784.7 442.5L1784.8 442.7L1784.9 438.7L1785.1 439L1785.2 435.3L1785.3 435.5L1785.4 431.5L1785.6 431.7L1785.7 428.2L1785.8 428.5L1785.9 425.3L1786.1 425.5L1786.2 422.3L1786.3 422.5L1786.4 419.3L1786.6 419.5L1786.7 416.2L1786.8 416.6L1786.9 413.2L1787.1 413.6L1787.2 410.2L1787.3 410.7L1787.4 407.2L1787.6 407.7L1787.7 404.3L1787.8 404.7L1787.9 401.3L1788.1 401.5L1788.2 398.3L1788.3 398.5L1788.4 395.3L1788.6 395.5L1788.7 392.3L1788.8 392.5L1788.9 389.9L1789.1 390L1789.2 387.4L1789.3 387.5L1789.4 384.8L1789.6 385.2L1789.7 382.3L1789.8 382.7L1789.9 379.8L1790.1 380.2L1790.2 377.3L1790.3 377.7L1790.4 374.8L1790.6 375.2L1790.7 372.3L1790.8 372.7L1790.9 369.6L1791.1 370.2L1791.2 367.1L1791.3 367.7L1791.4 364.6L1791.6 365.2L1791.7 362.1L1791.8 362.7L1791.9 359.6L1792.1 360.2L1792.2 357.1L1792.3 357.5L1792.4 354.7L1792.6 355L1792.7 351.6L1792.8 351.9L1792.9 348.6L1793.1 348.9L1793.2 345.6L1793.3 345.9L1793.4 342.6L1793.6 342.9L1793.7 339.6L1793.8 340.1L1793.9 336.6L1794.1 337L1794.2 333.6L1794.3 334L1794.4 330.5L1794.6 331L1794.7 327.5L1794.8 328L1794.9 324.5L1795.1 324.9L1795.2 321.6L1795.3 321.9L1795.4 318.6L1795.6 318.9L1795.7 315.7L1795.8 315.9L1795.9 312.8L1796.1 313.1L1796.2 310L1796.3 310.3L1796.4 307.2L1796.6 307.4L1796.7 304.4L1796.8 304.6L1796.9 301.5L1797.1 301.7L1797.2 298.7L1797.3 298.9L1797.4 295.8L1797.6 296L1797.7 293L1797.8 293.2L1797.9 290.2L1798.1 290.4L1798.2 287.3L1798.3 287.6L1798.4 284.5L1798.6 284.7L1798.7 281.6L1798.8 281.9L1798.9 279L1799.1 279.3L1799.2 276.6L1799.3 277L1799.4 274.4L1799.6 274.7L1799.7 272.2L1799.8 272.5L1799.9 269.9L1800.1 270.3L1800.2 267.7L1800.3 268L1800.4 265.5L1800.6 265.8L1800.7 263.3L1800.8 263.5L1800.9 261L1801.1 261.2L1801.2 258.8L1801.3 259L1801.4 256.6L1801.6 256.8L1801.7 254.3L1801.8 254.5L1801.9 252.2L1802.1 252.3L1802.2 249.9L1802.3 250.1L1802.4 247.1L1802.6 247.3L1802.7 244.4L1802.8 244.5L1802.9 241.6L1803.1 241.8L1803.2 238.8L1803.3 239L1803.4 236L1803.6 236.2L1803.7 233.2L1803.8 233.4L1803.9 230.5L1804.1 230.6L1804.2 227.7L1804.3 227.9L1804.4 224.9L1804.6 225.1L1804.7 222.3L1804.8 222.5L1804.9 219.7L1805.1 220L1805.2 217L1805.3 217.4L1805.4 214.4L1805.6 214.7L1805.7 211.8L1805.8 212.1L1805.9 209.2L1806.1 209.5L1806.2 206.6L1806.3 206.8L1806.4 204L1806.6 204.2L1806.7 201.4L1806.8 201.6L1806.9 198.8L1807.1 199L1807.2 196.3L1807.3 196.5L1807.4 193.8L1807.6 194L1807.7 191.4L1807.8 191.6L1807.9 188.9L1808.1 189.2L1808.2 186.4L1808.3 186.7L1808.4 184L1808.6 184.2L1808.7 181.5L1808.8 181.7L1808.9 179L1809.1 179.2L1809.2 176.5L1809.3 176.6L1809.4 174L1809.6 174.1L1809.7 171.5L1809.8 171.7L1809.9 169.1L1810.1 169.3L1810.2 166.7L1810.3 166.9L1810.4 164.4L1810.6 164.5L1810.7 162L1810.8 162.1L1810.9 159.5L1811.1 159.7L1811.2 157.1L1811.3 157.3L1811.4 154.7L1811.6 154.8L1811.7 152.3L1811.8 152.4L1811.9 149.9L1812.1 150.1L1812.2 147.9L1812.3 148L1812.4 145.8L1812.6 145.9L1812.7 143.7L1812.8 143.9L1812.9 141.6L1813.1 141.8L1813.2 139.5L1813.3 139.7L1813.4 137.4L1813.6 137.6L1813.7 135.9L1813.8 136.1L1813.9 134.4L1814.1 134.6L1814.2 132.9L1814.3 133.1L1814.4 131.5L1814.6 131.7L1814.7 130L1814.8 130.2L1814.9 128.6L1815.1 128.8L1815.2 127.1L1815.3 127.3L1815.4 125.6L1815.6 125.8L1815.7 124.5L1815.8 124.7L1815.9 123.7L1816.1 123.9L1816.2 122.8L1816.3 123.1L1816.4 122L1816.6 122.2L1816.7 121.2L1816.8 121.4L1816.9 120.4L1817.1 120.6L1817.2 119.6L1817.3 119.8L1817.4 118.7L1817.6 118.8L1817.7 118.4L1817.8 118.5L1817.9 118L1818.1 118.1L1818.2 117.6L1818.3 117.7L1818.4 117.2L1818.6 117.3L1818.7 116.9L1818.8 117L1818.9 116.5L1819.1 116.8L1819.2 116.2L1819.3 116.4L1819.4 115.8L1819.6 116.1L1819.7 115.4L1819.8 115.7L1819.9 115L1820.1 115.3L1820.2 114.8L1820.3 114.9L1820.4 114.7L1820.6 114.8L1820.7 114.5L1820.8 114.6L1820.9 114.4L1821.1 114.5L1821.2 114.3L1821.3 114.4L1821.4 114.1L1821.6 114.2L1821.7 113.9L1821.8 114.1L1821.9 113.9L1822.1 114L1822.2 113.9L1822.3 113.9L1822.4 113.9L1822.6 113.9L1822.7 113.9L1822.8 113.9L1822.9 113.9L1823.1 113.9L1823.2 113.9L1823.3 113.9L1823.4 113.9L1823.6 113.9L1823.7 113.9L1823.8 113.9L1823.9 113.9L1824.1 113.9L1824.2 113.9L1824.3 113.9L1824.4 113.9L1824.6 113.9L1824.7 113.9L1824.8 113.9L1824.9 113.9L1825.1 113.9L1825.2 113.9L1825.3 113.9L1825.4 113.9L1825.6 113.9L1825.7 113.9L1825.8 113.9L1825.9 113.9L1826.1 113.9L1826.2 113.9L1826.3 113.9L1826.4 113.9L1826.6 113.9L1826.7 113.9L1826.8 113.9L1826.9 113.9L1827.1 113.9L1827.2 113.9L1827.3 113.9L1827.4 113.9L1827.6 113.9L1827.7 113.9L1827.8 113.9L1827.9 113.9L1828.1 113.9L1828.2 113.9L1828.3 113.9L1828.4 113.9L1828.6 113.9L1828.7 113.9L1828.8 113.9L1828.9 113.9L1829.1 113.9L1829.2 113.9L1829.3 113.9L1829.4 113.9L1829.6 113.9L1829.7 113.9L1829.8 113.9L1829.9 113.9L1830.1 113.9L1830.2 113.9L1830.3 113.9L1830.4 113.9L1830.6 113.9L1830.7 113.9L1830.8 113.9L1830.9 113.9L1831.1 113.9L1831.2 113.9L1831.3 113.9L1831.4 113.9L1831.6 113.9L1831.7 113.9L1831.8 113.9L1831.9 113.9L1832.1 113.9L1832.2 113.9L1832.3 113.9L1832.4 113.9L1832.6 113.9L1832.7 113.9L1832.8 113.9L1832.9 113.9L1833.1 113.9L1833.2 113.9L1833.3 113.9L1833.4 113.9L1833.6 113.9L1833.7 113.9L1833.8 113.9L1833.9 113.9L1834.1 113.9L1834.2 113.9L1834.3 113.9L1834.4 113.9L1834.6 113.9L1834.7 113.9L1834.8 113.9L1834.9 113.9L1835.1 113.9L1835.2 113.9L1835.3 113.9L1835.4 113.9L1835.6 113.9L1835.7 113.9L1835.8 113.9L1835.9 113.9L1836.1 113.9L1836.2 113.9L1836.3 113.9L1836.4 113.9L1836.6 113.9L1836.7 113.9L1836.8 113.9L1836.9 113.9L1837.1 113.9L1837.2 113.9L1837.3 113.9L1837.4 113.9L1837.6 113.9L1837.7 113.9L1837.8 113.9L1837.9 113.9L1838.1 113.9L1838.2 113.9L1838.3 113.9L1838.4 113.9L1838.6 113.9L1838.7 113.9L1838.8 113.9L1838.9 113.9L1839.1 113.9L1839.2 113.9L1839.3 113.9L1839.4 113.9L1839.6 113.9L1839.7 113.9L1839.8 113.9L1839.9 113.9L1840.1 113.9L1840.2 113.9L1840.3 113.9L1840.4 113.9L1840.6 113.9L1840.7 113.9L1840.8 113.9L1840.9 113.9L1841.1 113.9L1841.2 113.9L1841.3 113.9L1841.4 113.9L1841.6 113.9L1841.7 113.9L1841.8 113.9L1841.9 113.9L1842.1 113.9L1842.2 113.9L1842.3 113.9L1842.4 113.9L1842.6 113.9" stroke="#000"/>
</g>
<rect x="209.5" y="112.5" width="1633.0" height="1065.0" fill="none" stroke="#000" stroke-width="3.33" stroke-linejoin="miter"/>
<path d="M873.63 133.1L1177.47 133.1Q1185.8 133.1 1185.8 141.43L1185.8 262.67Q1185.8 271.0 1177.47 271.0L873.63 271.0Q865.3 271.0 865.3 262.67L865.3 141.43Q865.3 133.1 873.63 133.1Z" fill="#fff" fill-opacity="0.8" stroke="#ccc" stroke-opacity="0.8" stroke-width="4.17" stroke-linejoin="miter"/>
<path d="M881.9 168h83.33" stroke="#f00" stroke-width="2.08" stroke-linecap="square"/>
<path d="M881.9 231h83.33" stroke="#000" stroke-width="2.08" stroke-linecap="square"/>
<text x="997.7" y="182.8" font-size="41.67">Peak</text>
<text x="999.2" y="244.7" font-size="41.67">Average</text>
<text x="1025" y="87" font-size="50.00" text-anchor="middle">Peak field sums for HU000B_20260319_173206_256686</text>
<text x="1025.5" y="1387" font-size="41.67" text-anchor="middle">Time</text>
<text transform="translate(82.4 645) rotate(-90)" font-size="41.67" text-anchor="middle">ADU</text>
<text transform="translate(109 462.7) scale(1 1.045)" font-size="41.67">10</text>
<text x="162.1" y="446.8" font-size="29.17">8</text>
<text transform="translate(201.5 1328.2) rotate(-30)" font-size="41.67">03-19 18</text>
<text transform="translate(351.6 1328.2) rotate(-30)" font-size="41.67">03-19 19</text>
<text transform="translate(501.6 1328.2) rotate(-30)" font-size="41.67">03-19 20</text>
<text transform="translate(651.7 1328.2) rotate(-30)" font-size="41.67">03-19 21</text>
<text transform="translate(801.8 1328.2) rotate(-30)" font-size="41.67">03-19 22</text>
<text transform="translate(951.9 1328.2) rotate(-30)" font-size="41.67">03-19 23</text>
<text transform="translate(1102.0 1328.2) rotate(-30)" font-size="41.67">03-20 00</text>
<text transform="translate(1252.0 1328.2) rotate(-30)" font-size="41.67">03-20 01</text>
<text transform="translate(1403.0 1328.2) rotate(-30)" font-size="41.67">03-20 02</text>
<text transform="translate(1553.1 1328.2) rotate(-30)" font-size="41.67">03-20 03</text>
<text transform="translate(1703.2 1328.2) rotate(-30)" font-size="41.67">03-20 04</text>
</svg>
</body></html>
